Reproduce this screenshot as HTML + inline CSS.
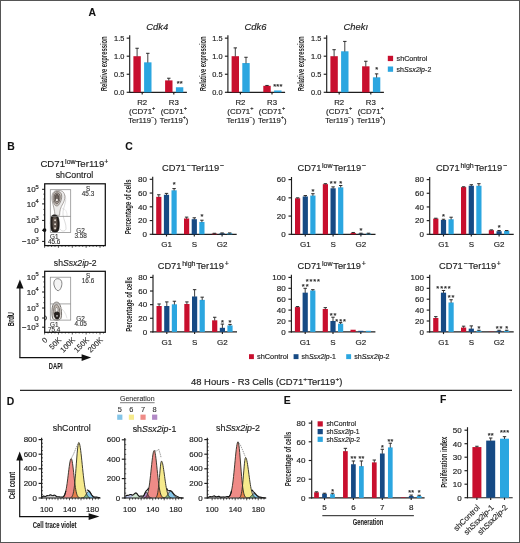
<!DOCTYPE html>
<html><head><meta charset="utf-8"><style>
html,body{margin:0;padding:0;background:#fff;}
body{width:520px;height:543px;overflow:hidden;font-family:"Liberation Sans", sans-serif;}
svg{display:block;}
text{font-family:"Liberation Sans", sans-serif;}
</style></head><body>
<svg width="520" height="543" viewBox="0 0 520 543" font-family='"Liberation Sans", sans-serif'>
<rect x="0" y="0" width="520" height="543" fill="#fff"/>
<g transform="translate(88.40 16.00)" fill="#111" stroke="#111" stroke-width="0.08"><text x="0.00" font-size="10.40" font-weight="bold">A</text></g>
<g transform="translate(7.20 150.00)" fill="#111" stroke="#111" stroke-width="0.08"><text x="0.00" font-size="10.40" font-weight="bold">B</text></g>
<g transform="translate(125.30 150.40)" fill="#111" stroke="#111" stroke-width="0.08"><text x="0.00" font-size="10.40" font-weight="bold">C</text></g>
<g transform="translate(6.80 405.10)" fill="#111" stroke="#111" stroke-width="0.08"><text x="0.00" font-size="10.40" font-weight="bold">D</text></g>
<g transform="translate(283.70 403.60)" fill="#111" stroke="#111" stroke-width="0.08"><text x="0.00" font-size="10.40" font-weight="bold">E</text></g>
<g transform="translate(440.00 403.10)" fill="#111" stroke="#111" stroke-width="0.08"><text x="0.00" font-size="10.40" font-weight="bold">F</text></g>
<line x1="129.70" y1="35.20" x2="129.70" y2="92.80" stroke="#1e1e1e" stroke-width="1.15" />
<line x1="129.20" y1="92.30" x2="186.90" y2="92.30" stroke="#1e1e1e" stroke-width="1.15" />
<line x1="126.70" y1="92.30" x2="129.70" y2="92.30" stroke="#1e1e1e" stroke-width="1.15" />
<g transform="translate(124.30 94.90)" fill="#1e1e1e" stroke="#1e1e1e" stroke-width="0.16"><text x="-10.29" font-size="7.40">0.0</text></g>
<line x1="126.70" y1="74.25" x2="129.70" y2="74.25" stroke="#1e1e1e" stroke-width="1.15" />
<g transform="translate(124.30 76.85)" fill="#1e1e1e" stroke="#1e1e1e" stroke-width="0.16"><text x="-10.29" font-size="7.40">0.5</text></g>
<line x1="126.70" y1="56.20" x2="129.70" y2="56.20" stroke="#1e1e1e" stroke-width="1.15" />
<g transform="translate(124.30 58.80)" fill="#1e1e1e" stroke="#1e1e1e" stroke-width="0.16"><text x="-10.29" font-size="7.40">1.0</text></g>
<line x1="126.70" y1="38.15" x2="129.70" y2="38.15" stroke="#1e1e1e" stroke-width="1.15" />
<g transform="translate(124.30 40.75)" fill="#1e1e1e" stroke="#1e1e1e" stroke-width="0.16"><text x="-10.29" font-size="7.40">1.5</text></g>
<line x1="142.20" y1="92.30" x2="142.20" y2="94.50" stroke="#1e1e1e" stroke-width="1.15" />
<line x1="173.80" y1="92.30" x2="173.80" y2="94.50" stroke="#1e1e1e" stroke-width="1.15" />
<rect x="133.40" y="56.20" width="7.40" height="36.10" fill="#c80f2e" />
<line x1="137.10" y1="56.50" x2="137.10" y2="48.26" stroke="#2a2a2a" stroke-width="0.9" />
<line x1="135.40" y1="48.26" x2="138.80" y2="48.26" stroke="#2a2a2a" stroke-width="1.0" />
<rect x="144.10" y="62.34" width="7.40" height="29.96" fill="#2ba6e0" />
<line x1="147.80" y1="62.64" x2="147.80" y2="53.31" stroke="#2a2a2a" stroke-width="0.9" />
<line x1="146.10" y1="53.31" x2="149.50" y2="53.31" stroke="#2a2a2a" stroke-width="1.0" />
<rect x="165.10" y="80.39" width="7.40" height="11.91" fill="#c80f2e" />
<line x1="168.80" y1="80.69" x2="168.80" y2="78.22" stroke="#2a2a2a" stroke-width="0.9" />
<line x1="167.10" y1="78.22" x2="170.50" y2="78.22" stroke="#2a2a2a" stroke-width="1.0" />
<rect x="175.90" y="87.25" width="7.40" height="5.05" fill="#2ba6e0" />
<g transform="translate(179.67 86.01)" fill="#2a2a2a" stroke="#2a2a2a" stroke-width="0.08"><text x="-3.04" font-size="7.43" font-weight="bold" letter-spacing="0.15">**</text></g>
<g transform="translate(157.30 30.00)" fill="#1e1e1e" stroke="#1e1e1e" stroke-width="0.16"><text x="-10.97" font-size="9.40" font-style="italic">Cdk4</text></g>
<g transform="translate(107.40 63.80) rotate(-90) scale(0.6653 1)" fill="#1e1e1e"><text x="-41.33" font-size="8.80" font-weight="bold">Relative expression</text></g>
<g transform="translate(142.20 104.70)" fill="#1e1e1e" stroke="#1e1e1e" stroke-width="0.16"><text x="-4.99" font-size="7.80">R2</text></g>
<g transform="translate(142.20 113.70) scale(1.0222 1)" fill="#1e1e1e" stroke="#1e1e1e" stroke-width="0.16"><text x="-12.86" font-size="7.80">(CD71</text><text x="9.68" y="-3.28" font-size="5.46">+</text></g>
<g transform="translate(142.50 122.70) scale(0.9842 1)" fill="#1e1e1e" stroke="#1e1e1e" stroke-width="0.16"><text x="-14.53" font-size="7.80">Ter119</text><text x="8.74" y="-3.28" font-size="5.46">−</text><text x="11.93" font-size="7.80">)</text></g>
<g transform="translate(173.80 104.70)" fill="#1e1e1e" stroke="#1e1e1e" stroke-width="0.16"><text x="-4.99" font-size="7.80">R3</text></g>
<g transform="translate(173.80 113.70) scale(1.0222 1)" fill="#1e1e1e" stroke="#1e1e1e" stroke-width="0.16"><text x="-12.86" font-size="7.80">(CD71</text><text x="9.68" y="-3.28" font-size="5.46">+</text></g>
<g transform="translate(174.10 122.70) scale(0.9842 1)" fill="#1e1e1e" stroke="#1e1e1e" stroke-width="0.16"><text x="-14.53" font-size="7.80">Ter119</text><text x="8.74" y="-3.28" font-size="5.46">+</text><text x="11.93" font-size="7.80">)</text></g>
<line x1="227.90" y1="35.20" x2="227.90" y2="92.80" stroke="#1e1e1e" stroke-width="1.15" />
<line x1="227.40" y1="92.30" x2="285.10" y2="92.30" stroke="#1e1e1e" stroke-width="1.15" />
<line x1="224.90" y1="92.30" x2="227.90" y2="92.30" stroke="#1e1e1e" stroke-width="1.15" />
<g transform="translate(222.50 94.90)" fill="#1e1e1e" stroke="#1e1e1e" stroke-width="0.16"><text x="-10.29" font-size="7.40">0.0</text></g>
<line x1="224.90" y1="74.25" x2="227.90" y2="74.25" stroke="#1e1e1e" stroke-width="1.15" />
<g transform="translate(222.50 76.85)" fill="#1e1e1e" stroke="#1e1e1e" stroke-width="0.16"><text x="-10.29" font-size="7.40">0.5</text></g>
<line x1="224.90" y1="56.20" x2="227.90" y2="56.20" stroke="#1e1e1e" stroke-width="1.15" />
<g transform="translate(222.50 58.80)" fill="#1e1e1e" stroke="#1e1e1e" stroke-width="0.16"><text x="-10.29" font-size="7.40">1.0</text></g>
<line x1="224.90" y1="38.15" x2="227.90" y2="38.15" stroke="#1e1e1e" stroke-width="1.15" />
<g transform="translate(222.50 40.75)" fill="#1e1e1e" stroke="#1e1e1e" stroke-width="0.16"><text x="-10.29" font-size="7.40">1.5</text></g>
<line x1="240.40" y1="92.30" x2="240.40" y2="94.50" stroke="#1e1e1e" stroke-width="1.15" />
<line x1="272.00" y1="92.30" x2="272.00" y2="94.50" stroke="#1e1e1e" stroke-width="1.15" />
<rect x="231.60" y="56.20" width="7.40" height="36.10" fill="#c80f2e" />
<line x1="235.30" y1="56.50" x2="235.30" y2="47.90" stroke="#2a2a2a" stroke-width="0.9" />
<line x1="233.60" y1="47.90" x2="237.00" y2="47.90" stroke="#2a2a2a" stroke-width="1.0" />
<rect x="242.30" y="63.06" width="7.40" height="29.24" fill="#2ba6e0" />
<line x1="246.00" y1="63.36" x2="246.00" y2="57.28" stroke="#2a2a2a" stroke-width="0.9" />
<line x1="244.30" y1="57.28" x2="247.70" y2="57.28" stroke="#2a2a2a" stroke-width="1.0" />
<rect x="263.30" y="85.80" width="7.40" height="6.50" fill="#c80f2e" />
<line x1="267.00" y1="86.10" x2="267.00" y2="85.44" stroke="#2a2a2a" stroke-width="0.9" />
<line x1="265.30" y1="85.44" x2="268.70" y2="85.44" stroke="#2a2a2a" stroke-width="1.0" />
<rect x="274.10" y="90.49" width="7.40" height="1.81" fill="#2ba6e0" />
<g transform="translate(277.88 89.26)" fill="#2a2a2a" stroke="#2a2a2a" stroke-width="0.08"><text x="-4.56" font-size="7.43" font-weight="bold" letter-spacing="0.15">***</text></g>
<g transform="translate(255.50 30.00)" fill="#1e1e1e" stroke="#1e1e1e" stroke-width="0.16"><text x="-10.97" font-size="9.40" font-style="italic">Cdk6</text></g>
<g transform="translate(205.60 63.80) rotate(-90) scale(0.6653 1)" fill="#1e1e1e"><text x="-41.33" font-size="8.80" font-weight="bold">Relative expression</text></g>
<g transform="translate(240.40 104.70)" fill="#1e1e1e" stroke="#1e1e1e" stroke-width="0.16"><text x="-4.99" font-size="7.80">R2</text></g>
<g transform="translate(240.40 113.70) scale(1.0222 1)" fill="#1e1e1e" stroke="#1e1e1e" stroke-width="0.16"><text x="-12.86" font-size="7.80">(CD71</text><text x="9.68" y="-3.28" font-size="5.46">+</text></g>
<g transform="translate(240.70 122.70) scale(0.9842 1)" fill="#1e1e1e" stroke="#1e1e1e" stroke-width="0.16"><text x="-14.53" font-size="7.80">Ter119</text><text x="8.74" y="-3.28" font-size="5.46">−</text><text x="11.93" font-size="7.80">)</text></g>
<g transform="translate(272.00 104.70)" fill="#1e1e1e" stroke="#1e1e1e" stroke-width="0.16"><text x="-4.99" font-size="7.80">R3</text></g>
<g transform="translate(272.00 113.70) scale(1.0222 1)" fill="#1e1e1e" stroke="#1e1e1e" stroke-width="0.16"><text x="-12.86" font-size="7.80">(CD71</text><text x="9.68" y="-3.28" font-size="5.46">+</text></g>
<g transform="translate(272.30 122.70) scale(0.9842 1)" fill="#1e1e1e" stroke="#1e1e1e" stroke-width="0.16"><text x="-14.53" font-size="7.80">Ter119</text><text x="8.74" y="-3.28" font-size="5.46">+</text><text x="11.93" font-size="7.80">)</text></g>
<line x1="326.70" y1="35.20" x2="326.70" y2="92.80" stroke="#1e1e1e" stroke-width="1.15" />
<line x1="326.20" y1="92.30" x2="383.90" y2="92.30" stroke="#1e1e1e" stroke-width="1.15" />
<line x1="323.70" y1="92.30" x2="326.70" y2="92.30" stroke="#1e1e1e" stroke-width="1.15" />
<g transform="translate(321.30 94.90)" fill="#1e1e1e" stroke="#1e1e1e" stroke-width="0.16"><text x="-10.29" font-size="7.40">0.0</text></g>
<line x1="323.70" y1="74.25" x2="326.70" y2="74.25" stroke="#1e1e1e" stroke-width="1.15" />
<g transform="translate(321.30 76.85)" fill="#1e1e1e" stroke="#1e1e1e" stroke-width="0.16"><text x="-10.29" font-size="7.40">0.5</text></g>
<line x1="323.70" y1="56.20" x2="326.70" y2="56.20" stroke="#1e1e1e" stroke-width="1.15" />
<g transform="translate(321.30 58.80)" fill="#1e1e1e" stroke="#1e1e1e" stroke-width="0.16"><text x="-10.29" font-size="7.40">1.0</text></g>
<line x1="323.70" y1="38.15" x2="326.70" y2="38.15" stroke="#1e1e1e" stroke-width="1.15" />
<g transform="translate(321.30 40.75)" fill="#1e1e1e" stroke="#1e1e1e" stroke-width="0.16"><text x="-10.29" font-size="7.40">1.5</text></g>
<line x1="339.20" y1="92.30" x2="339.20" y2="94.50" stroke="#1e1e1e" stroke-width="1.15" />
<line x1="370.80" y1="92.30" x2="370.80" y2="94.50" stroke="#1e1e1e" stroke-width="1.15" />
<rect x="330.40" y="56.20" width="7.40" height="36.10" fill="#c80f2e" />
<line x1="334.10" y1="56.50" x2="334.10" y2="49.70" stroke="#2a2a2a" stroke-width="0.9" />
<line x1="332.40" y1="49.70" x2="335.80" y2="49.70" stroke="#2a2a2a" stroke-width="1.0" />
<rect x="341.10" y="51.29" width="7.40" height="41.01" fill="#2ba6e0" />
<line x1="344.80" y1="51.59" x2="344.80" y2="41.40" stroke="#2a2a2a" stroke-width="0.9" />
<line x1="343.10" y1="41.40" x2="346.50" y2="41.40" stroke="#2a2a2a" stroke-width="1.0" />
<rect x="362.10" y="66.31" width="7.40" height="25.99" fill="#c80f2e" />
<line x1="365.80" y1="66.61" x2="365.80" y2="61.25" stroke="#2a2a2a" stroke-width="0.9" />
<line x1="364.10" y1="61.25" x2="367.50" y2="61.25" stroke="#2a2a2a" stroke-width="1.0" />
<rect x="372.90" y="77.32" width="7.40" height="14.98" fill="#2ba6e0" />
<line x1="376.60" y1="77.62" x2="376.60" y2="73.89" stroke="#2a2a2a" stroke-width="0.9" />
<line x1="374.90" y1="73.89" x2="378.30" y2="73.89" stroke="#2a2a2a" stroke-width="1.0" />
<g transform="translate(376.67 72.30)" fill="#2a2a2a" stroke="#2a2a2a" stroke-width="0.08"><text x="-1.52" font-size="7.43" font-weight="bold" letter-spacing="0.15">*</text></g>
<g transform="translate(355.80 30.00)" fill="#1e1e1e" stroke="#1e1e1e" stroke-width="0.16"><text x="-12.28" font-size="9.40" font-style="italic">Chek</text><text x="9.67" font-size="9.40" font-style="italic">ı</text></g>
<g transform="translate(304.40 63.80) rotate(-90) scale(0.6653 1)" fill="#1e1e1e"><text x="-41.33" font-size="8.80" font-weight="bold">Relative expression</text></g>
<g transform="translate(339.20 104.70)" fill="#1e1e1e" stroke="#1e1e1e" stroke-width="0.16"><text x="-4.99" font-size="7.80">R2</text></g>
<g transform="translate(339.20 113.70) scale(1.0222 1)" fill="#1e1e1e" stroke="#1e1e1e" stroke-width="0.16"><text x="-12.86" font-size="7.80">(CD71</text><text x="9.68" y="-3.28" font-size="5.46">+</text></g>
<g transform="translate(339.50 122.70) scale(0.9842 1)" fill="#1e1e1e" stroke="#1e1e1e" stroke-width="0.16"><text x="-14.53" font-size="7.80">Ter119</text><text x="8.74" y="-3.28" font-size="5.46">−</text><text x="11.93" font-size="7.80">)</text></g>
<g transform="translate(370.80 104.70)" fill="#1e1e1e" stroke="#1e1e1e" stroke-width="0.16"><text x="-4.99" font-size="7.80">R3</text></g>
<g transform="translate(370.80 113.70) scale(1.0222 1)" fill="#1e1e1e" stroke="#1e1e1e" stroke-width="0.16"><text x="-12.86" font-size="7.80">(CD71</text><text x="9.68" y="-3.28" font-size="5.46">+</text></g>
<g transform="translate(371.10 122.70) scale(0.9842 1)" fill="#1e1e1e" stroke="#1e1e1e" stroke-width="0.16"><text x="-14.53" font-size="7.80">Ter119</text><text x="8.74" y="-3.28" font-size="5.46">+</text><text x="11.93" font-size="7.80">)</text></g>
<rect x="387.80" y="55.80" width="5.30" height="5.30" fill="#c80f2e" />
<g transform="translate(396.60 60.80) scale(0.9858 1)" fill="#1e1e1e" stroke="#1e1e1e" stroke-width="0.16"><text x="0.00" font-size="7.30">shControl</text></g>
<rect x="387.80" y="66.50" width="5.30" height="5.30" fill="#2ba6e0" />
<g transform="translate(396.60 71.50) scale(0.9609 1)" fill="#1e1e1e" stroke="#1e1e1e" stroke-width="0.16"><text x="0.00" font-size="7.30">sh</text><text x="7.71" font-size="7.30" font-style="italic">Ssx2ip</text><text x="29.62" font-size="7.30">-2</text></g>
<line x1="152.70" y1="176.70" x2="152.70" y2="234.80" stroke="#1e1e1e" stroke-width="1.15" />
<line x1="152.20" y1="234.30" x2="236.70" y2="234.30" stroke="#1e1e1e" stroke-width="1.15" />
<line x1="149.70" y1="234.30" x2="152.70" y2="234.30" stroke="#1e1e1e" stroke-width="1.15" />
<g transform="translate(146.90 237.10)" fill="#1e1e1e" stroke="#1e1e1e" stroke-width="0.16"><text x="-4.45" font-size="8.00">0</text></g>
<line x1="149.70" y1="220.55" x2="152.70" y2="220.55" stroke="#1e1e1e" stroke-width="1.15" />
<g transform="translate(146.90 223.35)" fill="#1e1e1e" stroke="#1e1e1e" stroke-width="0.16"><text x="-8.90" font-size="8.00">20</text></g>
<line x1="149.70" y1="206.80" x2="152.70" y2="206.80" stroke="#1e1e1e" stroke-width="1.15" />
<g transform="translate(146.90 209.60)" fill="#1e1e1e" stroke="#1e1e1e" stroke-width="0.16"><text x="-8.90" font-size="8.00">40</text></g>
<line x1="149.70" y1="193.05" x2="152.70" y2="193.05" stroke="#1e1e1e" stroke-width="1.15" />
<g transform="translate(146.90 195.85)" fill="#1e1e1e" stroke="#1e1e1e" stroke-width="0.16"><text x="-8.90" font-size="8.00">60</text></g>
<line x1="149.70" y1="179.30" x2="152.70" y2="179.30" stroke="#1e1e1e" stroke-width="1.15" />
<g transform="translate(146.90 182.10)" fill="#1e1e1e" stroke="#1e1e1e" stroke-width="0.16"><text x="-8.90" font-size="8.00">80</text></g>
<line x1="166.50" y1="234.30" x2="166.50" y2="236.50" stroke="#1e1e1e" stroke-width="1.15" />
<g transform="translate(166.50 247.20)" fill="#1e1e1e" stroke="#1e1e1e" stroke-width="0.16"><text x="-5.34" font-size="8.00">G1</text></g>
<rect x="156.20" y="196.83" width="5.20" height="37.47" fill="#c80f2e" />
<line x1="158.80" y1="197.13" x2="158.80" y2="194.77" stroke="#2a2a2a" stroke-width="0.9" />
<line x1="157.10" y1="194.77" x2="160.50" y2="194.77" stroke="#2a2a2a" stroke-width="1.0" />
<rect x="163.90" y="194.77" width="5.20" height="39.53" fill="#164a84" />
<line x1="166.50" y1="195.07" x2="166.50" y2="193.39" stroke="#2a2a2a" stroke-width="0.9" />
<line x1="164.80" y1="193.39" x2="168.20" y2="193.39" stroke="#2a2a2a" stroke-width="1.0" />
<rect x="171.50" y="190.30" width="5.20" height="44.00" fill="#2ba6e0" />
<line x1="174.10" y1="190.60" x2="174.10" y2="188.58" stroke="#2a2a2a" stroke-width="0.9" />
<line x1="172.40" y1="188.58" x2="175.80" y2="188.58" stroke="#2a2a2a" stroke-width="1.0" />
<line x1="194.30" y1="234.30" x2="194.30" y2="236.50" stroke="#1e1e1e" stroke-width="1.15" />
<g transform="translate(194.30 247.20)" fill="#1e1e1e" stroke="#1e1e1e" stroke-width="0.16"><text x="-2.67" font-size="8.00">S</text></g>
<rect x="184.00" y="218.49" width="5.20" height="15.81" fill="#c80f2e" />
<line x1="186.60" y1="218.79" x2="186.60" y2="217.11" stroke="#2a2a2a" stroke-width="0.9" />
<line x1="184.90" y1="217.11" x2="188.30" y2="217.11" stroke="#2a2a2a" stroke-width="1.0" />
<rect x="191.70" y="219.18" width="5.20" height="15.12" fill="#164a84" />
<line x1="194.30" y1="219.48" x2="194.30" y2="217.80" stroke="#2a2a2a" stroke-width="0.9" />
<line x1="192.60" y1="217.80" x2="196.00" y2="217.80" stroke="#2a2a2a" stroke-width="1.0" />
<rect x="199.30" y="221.93" width="5.20" height="12.38" fill="#2ba6e0" />
<line x1="201.90" y1="222.23" x2="201.90" y2="220.21" stroke="#2a2a2a" stroke-width="0.9" />
<line x1="200.20" y1="220.21" x2="203.60" y2="220.21" stroke="#2a2a2a" stroke-width="1.0" />
<line x1="222.10" y1="234.30" x2="222.10" y2="236.50" stroke="#1e1e1e" stroke-width="1.15" />
<g transform="translate(222.10 247.20)" fill="#1e1e1e" stroke="#1e1e1e" stroke-width="0.16"><text x="-5.34" font-size="8.00">G2</text></g>
<rect x="211.80" y="233.61" width="5.20" height="0.69" fill="#c80f2e" />
<line x1="214.40" y1="233.91" x2="214.40" y2="233.27" stroke="#2a2a2a" stroke-width="0.9" />
<line x1="212.70" y1="233.27" x2="216.10" y2="233.27" stroke="#2a2a2a" stroke-width="1.0" />
<rect x="219.50" y="233.27" width="5.20" height="1.03" fill="#164a84" />
<line x1="222.10" y1="233.57" x2="222.10" y2="232.93" stroke="#2a2a2a" stroke-width="0.9" />
<line x1="220.40" y1="232.93" x2="223.80" y2="232.93" stroke="#2a2a2a" stroke-width="1.0" />
<rect x="227.10" y="233.27" width="5.20" height="1.03" fill="#2ba6e0" />
<line x1="229.70" y1="233.57" x2="229.70" y2="232.93" stroke="#2a2a2a" stroke-width="0.9" />
<line x1="228.00" y1="232.93" x2="231.40" y2="232.93" stroke="#2a2a2a" stroke-width="1.0" />
<g transform="translate(174.55 186.62)" fill="#2a2a2a" stroke="#2a2a2a" stroke-width="0.08"><text x="-1.90" font-size="7.43" font-weight="bold" letter-spacing="0.9">*</text></g>
<g transform="translate(202.35 218.94)" fill="#2a2a2a" stroke="#2a2a2a" stroke-width="0.08"><text x="-1.90" font-size="7.43" font-weight="bold" letter-spacing="0.9">*</text></g>
<g transform="translate(193.30 171.00)" fill="#1e1e1e" stroke="#1e1e1e" stroke-width="0.16"><text x="-31.29" font-size="9.30">CD71</text><text x="-6.81" y="-3.35" font-size="7.07">−</text><text x="-1.98" font-size="9.30">Ter119</text><text x="26.46" y="-3.35" font-size="7.07">−</text></g>
<g transform="translate(131.30 206.70) rotate(-90) scale(0.6856 1)" fill="#1e1e1e"><text x="-40.11" font-size="8.80" font-weight="bold">Percentage of cells</text></g>
<line x1="291.50" y1="177.00" x2="291.50" y2="234.80" stroke="#1e1e1e" stroke-width="1.15" />
<line x1="291.00" y1="234.30" x2="375.50" y2="234.30" stroke="#1e1e1e" stroke-width="1.15" />
<line x1="288.50" y1="234.30" x2="291.50" y2="234.30" stroke="#1e1e1e" stroke-width="1.15" />
<g transform="translate(285.70 237.10)" fill="#1e1e1e" stroke="#1e1e1e" stroke-width="0.16"><text x="-4.45" font-size="8.00">0</text></g>
<line x1="288.50" y1="216.07" x2="291.50" y2="216.07" stroke="#1e1e1e" stroke-width="1.15" />
<g transform="translate(285.70 218.87)" fill="#1e1e1e" stroke="#1e1e1e" stroke-width="0.16"><text x="-8.90" font-size="8.00">20</text></g>
<line x1="288.50" y1="197.83" x2="291.50" y2="197.83" stroke="#1e1e1e" stroke-width="1.15" />
<g transform="translate(285.70 200.63)" fill="#1e1e1e" stroke="#1e1e1e" stroke-width="0.16"><text x="-8.90" font-size="8.00">40</text></g>
<line x1="288.50" y1="179.60" x2="291.50" y2="179.60" stroke="#1e1e1e" stroke-width="1.15" />
<g transform="translate(285.70 182.40)" fill="#1e1e1e" stroke="#1e1e1e" stroke-width="0.16"><text x="-8.90" font-size="8.00">60</text></g>
<line x1="305.30" y1="234.30" x2="305.30" y2="236.50" stroke="#1e1e1e" stroke-width="1.15" />
<g transform="translate(305.30 247.20)" fill="#1e1e1e" stroke="#1e1e1e" stroke-width="0.16"><text x="-5.34" font-size="8.00">G1</text></g>
<rect x="295.00" y="198.29" width="5.20" height="36.01" fill="#c80f2e" />
<line x1="297.60" y1="198.59" x2="297.60" y2="197.83" stroke="#2a2a2a" stroke-width="0.9" />
<line x1="295.90" y1="197.83" x2="299.30" y2="197.83" stroke="#2a2a2a" stroke-width="1.0" />
<rect x="302.70" y="196.47" width="5.20" height="37.83" fill="#164a84" />
<line x1="305.30" y1="196.77" x2="305.30" y2="195.55" stroke="#2a2a2a" stroke-width="0.9" />
<line x1="303.60" y1="195.55" x2="307.00" y2="195.55" stroke="#2a2a2a" stroke-width="1.0" />
<rect x="310.30" y="195.55" width="5.20" height="38.75" fill="#2ba6e0" />
<line x1="312.90" y1="195.85" x2="312.90" y2="193.73" stroke="#2a2a2a" stroke-width="0.9" />
<line x1="311.20" y1="193.73" x2="314.60" y2="193.73" stroke="#2a2a2a" stroke-width="1.0" />
<line x1="333.10" y1="234.30" x2="333.10" y2="236.50" stroke="#1e1e1e" stroke-width="1.15" />
<g transform="translate(333.10 247.20)" fill="#1e1e1e" stroke="#1e1e1e" stroke-width="0.16"><text x="-2.67" font-size="8.00">S</text></g>
<rect x="322.80" y="184.16" width="5.20" height="50.14" fill="#c80f2e" />
<line x1="325.40" y1="184.46" x2="325.40" y2="183.70" stroke="#2a2a2a" stroke-width="0.9" />
<line x1="323.70" y1="183.70" x2="327.10" y2="183.70" stroke="#2a2a2a" stroke-width="1.0" />
<rect x="330.50" y="188.26" width="5.20" height="46.04" fill="#164a84" />
<line x1="333.10" y1="188.56" x2="333.10" y2="186.89" stroke="#2a2a2a" stroke-width="0.9" />
<line x1="331.40" y1="186.89" x2="334.80" y2="186.89" stroke="#2a2a2a" stroke-width="1.0" />
<rect x="338.10" y="187.35" width="5.20" height="46.95" fill="#2ba6e0" />
<line x1="340.70" y1="187.65" x2="340.70" y2="185.53" stroke="#2a2a2a" stroke-width="0.9" />
<line x1="339.00" y1="185.53" x2="342.40" y2="185.53" stroke="#2a2a2a" stroke-width="1.0" />
<line x1="360.90" y1="234.30" x2="360.90" y2="236.50" stroke="#1e1e1e" stroke-width="1.15" />
<g transform="translate(360.90 247.20)" fill="#1e1e1e" stroke="#1e1e1e" stroke-width="0.16"><text x="-5.34" font-size="8.00">G2</text></g>
<rect x="350.60" y="232.93" width="5.20" height="1.37" fill="#c80f2e" />
<line x1="353.20" y1="233.23" x2="353.20" y2="232.48" stroke="#2a2a2a" stroke-width="0.9" />
<line x1="351.50" y1="232.48" x2="354.90" y2="232.48" stroke="#2a2a2a" stroke-width="1.0" />
<rect x="358.30" y="233.57" width="5.20" height="0.73" fill="#164a84" />
<line x1="360.90" y1="233.87" x2="360.90" y2="233.21" stroke="#2a2a2a" stroke-width="0.9" />
<line x1="359.20" y1="233.21" x2="362.60" y2="233.21" stroke="#2a2a2a" stroke-width="1.0" />
<rect x="365.90" y="233.57" width="5.20" height="0.73" fill="#2ba6e0" />
<line x1="368.50" y1="233.87" x2="368.50" y2="233.21" stroke="#2a2a2a" stroke-width="0.9" />
<line x1="366.80" y1="233.21" x2="370.20" y2="233.21" stroke="#2a2a2a" stroke-width="1.0" />
<g transform="translate(313.35 193.74)" fill="#2a2a2a" stroke="#2a2a2a" stroke-width="0.08"><text x="-1.90" font-size="7.43" font-weight="bold" letter-spacing="0.9">*</text></g>
<g transform="translate(333.55 185.99)" fill="#2a2a2a" stroke="#2a2a2a" stroke-width="0.08"><text x="-3.79" font-size="7.43" font-weight="bold" letter-spacing="0.9">**</text></g>
<g transform="translate(341.15 185.53)" fill="#2a2a2a" stroke="#2a2a2a" stroke-width="0.08"><text x="-1.90" font-size="7.43" font-weight="bold" letter-spacing="0.9">*</text></g>
<g transform="translate(361.35 232.94)" fill="#2a2a2a" stroke="#2a2a2a" stroke-width="0.08"><text x="-1.90" font-size="7.43" font-weight="bold" letter-spacing="0.9">*</text></g>
<g transform="translate(332.10 171.00)" fill="#1e1e1e" stroke="#1e1e1e" stroke-width="0.16"><text x="-34.53" font-size="9.30">CD71</text><text x="-10.05" y="-3.35" font-size="7.07">low</text><text x="1.25" font-size="9.30">Ter119</text><text x="29.70" y="-3.35" font-size="7.07">−</text></g>
<line x1="429.70" y1="177.00" x2="429.70" y2="234.80" stroke="#1e1e1e" stroke-width="1.15" />
<line x1="429.20" y1="234.30" x2="513.70" y2="234.30" stroke="#1e1e1e" stroke-width="1.15" />
<line x1="426.70" y1="234.30" x2="429.70" y2="234.30" stroke="#1e1e1e" stroke-width="1.15" />
<g transform="translate(423.90 237.10)" fill="#1e1e1e" stroke="#1e1e1e" stroke-width="0.16"><text x="-4.45" font-size="8.00">0</text></g>
<line x1="426.70" y1="220.62" x2="429.70" y2="220.62" stroke="#1e1e1e" stroke-width="1.15" />
<g transform="translate(423.90 223.43)" fill="#1e1e1e" stroke="#1e1e1e" stroke-width="0.16"><text x="-8.90" font-size="8.00">20</text></g>
<line x1="426.70" y1="206.95" x2="429.70" y2="206.95" stroke="#1e1e1e" stroke-width="1.15" />
<g transform="translate(423.90 209.75)" fill="#1e1e1e" stroke="#1e1e1e" stroke-width="0.16"><text x="-8.90" font-size="8.00">40</text></g>
<line x1="426.70" y1="193.28" x2="429.70" y2="193.28" stroke="#1e1e1e" stroke-width="1.15" />
<g transform="translate(423.90 196.08)" fill="#1e1e1e" stroke="#1e1e1e" stroke-width="0.16"><text x="-8.90" font-size="8.00">60</text></g>
<line x1="426.70" y1="179.60" x2="429.70" y2="179.60" stroke="#1e1e1e" stroke-width="1.15" />
<g transform="translate(423.90 182.40)" fill="#1e1e1e" stroke="#1e1e1e" stroke-width="0.16"><text x="-8.90" font-size="8.00">80</text></g>
<line x1="443.50" y1="234.30" x2="443.50" y2="236.50" stroke="#1e1e1e" stroke-width="1.15" />
<g transform="translate(443.50 247.20)" fill="#1e1e1e" stroke="#1e1e1e" stroke-width="0.16"><text x="-5.34" font-size="8.00">G1</text></g>
<rect x="433.20" y="218.57" width="5.20" height="15.73" fill="#c80f2e" />
<line x1="435.80" y1="218.87" x2="435.80" y2="218.23" stroke="#2a2a2a" stroke-width="0.9" />
<line x1="434.10" y1="218.23" x2="437.50" y2="218.23" stroke="#2a2a2a" stroke-width="1.0" />
<rect x="440.90" y="219.94" width="5.20" height="14.36" fill="#164a84" />
<line x1="443.50" y1="220.24" x2="443.50" y2="219.26" stroke="#2a2a2a" stroke-width="0.9" />
<line x1="441.80" y1="219.26" x2="445.20" y2="219.26" stroke="#2a2a2a" stroke-width="1.0" />
<rect x="448.50" y="219.26" width="5.20" height="15.04" fill="#2ba6e0" />
<line x1="451.10" y1="219.56" x2="451.10" y2="217.21" stroke="#2a2a2a" stroke-width="0.9" />
<line x1="449.40" y1="217.21" x2="452.80" y2="217.21" stroke="#2a2a2a" stroke-width="1.0" />
<line x1="471.30" y1="234.30" x2="471.30" y2="236.50" stroke="#1e1e1e" stroke-width="1.15" />
<g transform="translate(471.30 247.20)" fill="#1e1e1e" stroke="#1e1e1e" stroke-width="0.16"><text x="-2.67" font-size="8.00">S</text></g>
<rect x="461.00" y="187.12" width="5.20" height="47.18" fill="#c80f2e" />
<line x1="463.60" y1="187.42" x2="463.60" y2="186.78" stroke="#2a2a2a" stroke-width="0.9" />
<line x1="461.90" y1="186.78" x2="465.30" y2="186.78" stroke="#2a2a2a" stroke-width="1.0" />
<rect x="468.70" y="185.75" width="5.20" height="48.55" fill="#164a84" />
<line x1="471.30" y1="186.05" x2="471.30" y2="184.73" stroke="#2a2a2a" stroke-width="0.9" />
<line x1="469.60" y1="184.73" x2="473.00" y2="184.73" stroke="#2a2a2a" stroke-width="1.0" />
<rect x="476.30" y="185.75" width="5.20" height="48.55" fill="#2ba6e0" />
<line x1="478.90" y1="186.05" x2="478.90" y2="183.70" stroke="#2a2a2a" stroke-width="0.9" />
<line x1="477.20" y1="183.70" x2="480.60" y2="183.70" stroke="#2a2a2a" stroke-width="1.0" />
<line x1="499.10" y1="234.30" x2="499.10" y2="236.50" stroke="#1e1e1e" stroke-width="1.15" />
<g transform="translate(499.10 247.20)" fill="#1e1e1e" stroke="#1e1e1e" stroke-width="0.16"><text x="-5.34" font-size="8.00">G2</text></g>
<rect x="488.80" y="230.20" width="5.20" height="4.10" fill="#c80f2e" />
<line x1="491.40" y1="230.50" x2="491.40" y2="229.86" stroke="#2a2a2a" stroke-width="0.9" />
<line x1="489.70" y1="229.86" x2="493.10" y2="229.86" stroke="#2a2a2a" stroke-width="1.0" />
<rect x="496.50" y="231.22" width="5.20" height="3.08" fill="#164a84" />
<line x1="499.10" y1="231.52" x2="499.10" y2="230.54" stroke="#2a2a2a" stroke-width="0.9" />
<line x1="497.40" y1="230.54" x2="500.80" y2="230.54" stroke="#2a2a2a" stroke-width="1.0" />
<rect x="504.10" y="230.88" width="5.20" height="3.42" fill="#2ba6e0" />
<line x1="506.70" y1="231.18" x2="506.70" y2="230.54" stroke="#2a2a2a" stroke-width="0.9" />
<line x1="505.00" y1="230.54" x2="508.40" y2="230.54" stroke="#2a2a2a" stroke-width="1.0" />
<g transform="translate(443.95 219.04)" fill="#2a2a2a" stroke="#2a2a2a" stroke-width="0.08"><text x="-1.90" font-size="7.43" font-weight="bold" letter-spacing="0.9">*</text></g>
<g transform="translate(499.55 229.98)" fill="#2a2a2a" stroke="#2a2a2a" stroke-width="0.08"><text x="-1.90" font-size="7.43" font-weight="bold" letter-spacing="0.9">*</text></g>
<g transform="translate(471.80 171.00)" fill="#1e1e1e" stroke="#1e1e1e" stroke-width="0.16"><text x="-35.91" font-size="9.30">CD71</text><text x="-11.43" y="-3.35" font-size="7.07">high</text><text x="2.63" font-size="9.30">Ter119</text><text x="31.08" y="-3.35" font-size="7.07">−</text></g>
<line x1="153.00" y1="274.80" x2="153.00" y2="332.40" stroke="#1e1e1e" stroke-width="1.15" />
<line x1="152.50" y1="331.90" x2="237.00" y2="331.90" stroke="#1e1e1e" stroke-width="1.15" />
<line x1="150.00" y1="331.90" x2="153.00" y2="331.90" stroke="#1e1e1e" stroke-width="1.15" />
<g transform="translate(147.20 334.70)" fill="#1e1e1e" stroke="#1e1e1e" stroke-width="0.16"><text x="-4.45" font-size="8.00">0</text></g>
<line x1="150.00" y1="318.27" x2="153.00" y2="318.27" stroke="#1e1e1e" stroke-width="1.15" />
<g transform="translate(147.20 321.07)" fill="#1e1e1e" stroke="#1e1e1e" stroke-width="0.16"><text x="-8.90" font-size="8.00">20</text></g>
<line x1="150.00" y1="304.65" x2="153.00" y2="304.65" stroke="#1e1e1e" stroke-width="1.15" />
<g transform="translate(147.20 307.45)" fill="#1e1e1e" stroke="#1e1e1e" stroke-width="0.16"><text x="-8.90" font-size="8.00">40</text></g>
<line x1="150.00" y1="291.02" x2="153.00" y2="291.02" stroke="#1e1e1e" stroke-width="1.15" />
<g transform="translate(147.20 293.82)" fill="#1e1e1e" stroke="#1e1e1e" stroke-width="0.16"><text x="-8.90" font-size="8.00">60</text></g>
<line x1="150.00" y1="277.40" x2="153.00" y2="277.40" stroke="#1e1e1e" stroke-width="1.15" />
<g transform="translate(147.20 280.20)" fill="#1e1e1e" stroke="#1e1e1e" stroke-width="0.16"><text x="-8.90" font-size="8.00">80</text></g>
<line x1="166.80" y1="331.90" x2="166.80" y2="334.10" stroke="#1e1e1e" stroke-width="1.15" />
<g transform="translate(166.80 344.80)" fill="#1e1e1e" stroke="#1e1e1e" stroke-width="0.16"><text x="-5.34" font-size="8.00">G1</text></g>
<rect x="156.50" y="306.01" width="5.20" height="25.89" fill="#c80f2e" />
<line x1="159.10" y1="306.31" x2="159.10" y2="303.97" stroke="#2a2a2a" stroke-width="0.9" />
<line x1="157.40" y1="303.97" x2="160.80" y2="303.97" stroke="#2a2a2a" stroke-width="1.0" />
<rect x="164.20" y="306.01" width="5.20" height="25.89" fill="#164a84" />
<line x1="166.80" y1="306.31" x2="166.80" y2="301.92" stroke="#2a2a2a" stroke-width="0.9" />
<line x1="165.10" y1="301.92" x2="168.50" y2="301.92" stroke="#2a2a2a" stroke-width="1.0" />
<rect x="171.80" y="304.31" width="5.20" height="27.59" fill="#2ba6e0" />
<line x1="174.40" y1="304.61" x2="174.40" y2="301.24" stroke="#2a2a2a" stroke-width="0.9" />
<line x1="172.70" y1="301.24" x2="176.10" y2="301.24" stroke="#2a2a2a" stroke-width="1.0" />
<line x1="194.60" y1="331.90" x2="194.60" y2="334.10" stroke="#1e1e1e" stroke-width="1.15" />
<g transform="translate(194.60 344.80)" fill="#1e1e1e" stroke="#1e1e1e" stroke-width="0.16"><text x="-2.67" font-size="8.00">S</text></g>
<rect x="184.30" y="303.97" width="5.20" height="27.93" fill="#c80f2e" />
<line x1="186.90" y1="304.27" x2="186.90" y2="301.92" stroke="#2a2a2a" stroke-width="0.9" />
<line x1="185.20" y1="301.92" x2="188.60" y2="301.92" stroke="#2a2a2a" stroke-width="1.0" />
<rect x="192.00" y="296.47" width="5.20" height="35.43" fill="#164a84" />
<line x1="194.60" y1="296.77" x2="194.60" y2="289.66" stroke="#2a2a2a" stroke-width="0.9" />
<line x1="192.90" y1="289.66" x2="196.30" y2="289.66" stroke="#2a2a2a" stroke-width="1.0" />
<rect x="199.60" y="299.88" width="5.20" height="32.02" fill="#2ba6e0" />
<line x1="202.20" y1="300.18" x2="202.20" y2="297.16" stroke="#2a2a2a" stroke-width="0.9" />
<line x1="200.50" y1="297.16" x2="203.90" y2="297.16" stroke="#2a2a2a" stroke-width="1.0" />
<line x1="222.40" y1="331.90" x2="222.40" y2="334.10" stroke="#1e1e1e" stroke-width="1.15" />
<g transform="translate(222.40 344.80)" fill="#1e1e1e" stroke="#1e1e1e" stroke-width="0.16"><text x="-5.34" font-size="8.00">G2</text></g>
<rect x="212.10" y="320.32" width="5.20" height="11.58" fill="#c80f2e" />
<line x1="214.70" y1="320.62" x2="214.70" y2="317.25" stroke="#2a2a2a" stroke-width="0.9" />
<line x1="213.00" y1="317.25" x2="216.40" y2="317.25" stroke="#2a2a2a" stroke-width="1.0" />
<rect x="219.80" y="327.81" width="5.20" height="4.09" fill="#164a84" />
<line x1="222.40" y1="328.11" x2="222.40" y2="324.07" stroke="#2a2a2a" stroke-width="0.9" />
<line x1="220.70" y1="324.07" x2="224.10" y2="324.07" stroke="#2a2a2a" stroke-width="1.0" />
<rect x="227.40" y="325.43" width="5.20" height="6.47" fill="#2ba6e0" />
<line x1="230.00" y1="325.73" x2="230.00" y2="324.41" stroke="#2a2a2a" stroke-width="0.9" />
<line x1="228.30" y1="324.41" x2="231.70" y2="324.41" stroke="#2a2a2a" stroke-width="1.0" />
<g transform="translate(222.85 324.88)" fill="#2a2a2a" stroke="#2a2a2a" stroke-width="0.08"><text x="-1.90" font-size="7.43" font-weight="bold" letter-spacing="0.9">*</text></g>
<g transform="translate(230.45 324.88)" fill="#2a2a2a" stroke="#2a2a2a" stroke-width="0.08"><text x="-1.90" font-size="7.43" font-weight="bold" letter-spacing="0.9">*</text></g>
<g transform="translate(193.60 269.00)" fill="#1e1e1e" stroke="#1e1e1e" stroke-width="0.16"><text x="-35.91" font-size="9.30">CD71</text><text x="-11.43" y="-3.35" font-size="7.07">high</text><text x="2.63" font-size="9.30">Ter119</text><text x="31.08" y="-3.35" font-size="7.07">+</text></g>
<g transform="translate(131.60 304.30) rotate(-90) scale(0.6856 1)" fill="#1e1e1e"><text x="-40.11" font-size="8.80" font-weight="bold">Percentage of cells</text></g>
<line x1="291.40" y1="274.80" x2="291.40" y2="332.40" stroke="#1e1e1e" stroke-width="1.15" />
<line x1="290.90" y1="331.90" x2="375.40" y2="331.90" stroke="#1e1e1e" stroke-width="1.15" />
<line x1="288.40" y1="331.90" x2="291.40" y2="331.90" stroke="#1e1e1e" stroke-width="1.15" />
<g transform="translate(285.60 334.70)" fill="#1e1e1e" stroke="#1e1e1e" stroke-width="0.16"><text x="-4.45" font-size="8.00">0</text></g>
<line x1="288.40" y1="321.00" x2="291.40" y2="321.00" stroke="#1e1e1e" stroke-width="1.15" />
<g transform="translate(285.60 323.80)" fill="#1e1e1e" stroke="#1e1e1e" stroke-width="0.16"><text x="-8.90" font-size="8.00">20</text></g>
<line x1="288.40" y1="310.10" x2="291.40" y2="310.10" stroke="#1e1e1e" stroke-width="1.15" />
<g transform="translate(285.60 312.90)" fill="#1e1e1e" stroke="#1e1e1e" stroke-width="0.16"><text x="-8.90" font-size="8.00">40</text></g>
<line x1="288.40" y1="299.20" x2="291.40" y2="299.20" stroke="#1e1e1e" stroke-width="1.15" />
<g transform="translate(285.60 302.00)" fill="#1e1e1e" stroke="#1e1e1e" stroke-width="0.16"><text x="-8.90" font-size="8.00">60</text></g>
<line x1="288.40" y1="288.30" x2="291.40" y2="288.30" stroke="#1e1e1e" stroke-width="1.15" />
<g transform="translate(285.60 291.10)" fill="#1e1e1e" stroke="#1e1e1e" stroke-width="0.16"><text x="-8.90" font-size="8.00">80</text></g>
<line x1="288.40" y1="277.40" x2="291.40" y2="277.40" stroke="#1e1e1e" stroke-width="1.15" />
<g transform="translate(285.60 280.20)" fill="#1e1e1e" stroke="#1e1e1e" stroke-width="0.16"><text x="-13.35" font-size="8.00">100</text></g>
<line x1="305.20" y1="331.90" x2="305.20" y2="334.10" stroke="#1e1e1e" stroke-width="1.15" />
<g transform="translate(305.20 344.80)" fill="#1e1e1e" stroke="#1e1e1e" stroke-width="0.16"><text x="-5.34" font-size="8.00">G1</text></g>
<rect x="294.90" y="307.10" width="5.20" height="24.80" fill="#c80f2e" />
<line x1="297.50" y1="307.40" x2="297.50" y2="306.56" stroke="#2a2a2a" stroke-width="0.9" />
<line x1="295.80" y1="306.56" x2="299.20" y2="306.56" stroke="#2a2a2a" stroke-width="1.0" />
<rect x="302.60" y="292.66" width="5.20" height="39.24" fill="#164a84" />
<line x1="305.20" y1="292.96" x2="305.20" y2="288.30" stroke="#2a2a2a" stroke-width="0.9" />
<line x1="303.50" y1="288.30" x2="306.90" y2="288.30" stroke="#2a2a2a" stroke-width="1.0" />
<rect x="310.20" y="290.48" width="5.20" height="41.42" fill="#2ba6e0" />
<line x1="312.80" y1="290.78" x2="312.80" y2="289.66" stroke="#2a2a2a" stroke-width="0.9" />
<line x1="311.10" y1="289.66" x2="314.50" y2="289.66" stroke="#2a2a2a" stroke-width="1.0" />
<line x1="333.00" y1="331.90" x2="333.00" y2="334.10" stroke="#1e1e1e" stroke-width="1.15" />
<g transform="translate(333.00 344.80)" fill="#1e1e1e" stroke="#1e1e1e" stroke-width="0.16"><text x="-2.67" font-size="8.00">S</text></g>
<rect x="322.70" y="309.01" width="5.20" height="22.89" fill="#c80f2e" />
<line x1="325.30" y1="309.31" x2="325.30" y2="307.65" stroke="#2a2a2a" stroke-width="0.9" />
<line x1="323.60" y1="307.65" x2="327.00" y2="307.65" stroke="#2a2a2a" stroke-width="1.0" />
<rect x="330.40" y="321.00" width="5.20" height="10.90" fill="#164a84" />
<line x1="333.00" y1="321.30" x2="333.00" y2="317.19" stroke="#2a2a2a" stroke-width="0.9" />
<line x1="331.30" y1="317.19" x2="334.70" y2="317.19" stroke="#2a2a2a" stroke-width="1.0" />
<rect x="338.00" y="323.72" width="5.20" height="8.18" fill="#2ba6e0" />
<line x1="340.60" y1="324.02" x2="340.60" y2="322.63" stroke="#2a2a2a" stroke-width="0.9" />
<line x1="338.90" y1="322.63" x2="342.30" y2="322.63" stroke="#2a2a2a" stroke-width="1.0" />
<line x1="360.80" y1="331.90" x2="360.80" y2="334.10" stroke="#1e1e1e" stroke-width="1.15" />
<g transform="translate(360.80 344.80)" fill="#1e1e1e" stroke="#1e1e1e" stroke-width="0.16"><text x="-5.34" font-size="8.00">G2</text></g>
<rect x="350.50" y="329.72" width="5.20" height="2.18" fill="#c80f2e" />
<rect x="358.20" y="330.81" width="5.20" height="1.09" fill="#164a84" />
<rect x="365.80" y="330.81" width="5.20" height="1.09" fill="#2ba6e0" />
<g transform="translate(305.65 289.32)" fill="#2a2a2a" stroke="#2a2a2a" stroke-width="0.08"><text x="-3.79" font-size="7.43" font-weight="bold" letter-spacing="0.9">**</text></g>
<g transform="translate(313.25 284.42)" fill="#2a2a2a" stroke="#2a2a2a" stroke-width="0.08"><text x="-7.59" font-size="7.43" font-weight="bold" letter-spacing="0.9">****</text></g>
<g transform="translate(333.45 318.21)" fill="#2a2a2a" stroke="#2a2a2a" stroke-width="0.08"><text x="-3.79" font-size="7.43" font-weight="bold" letter-spacing="0.9">**</text></g>
<g transform="translate(341.05 323.66)" fill="#2a2a2a" stroke="#2a2a2a" stroke-width="0.08"><text x="-5.69" font-size="7.43" font-weight="bold" letter-spacing="0.9">***</text></g>
<g transform="translate(332.00 269.00)" fill="#1e1e1e" stroke="#1e1e1e" stroke-width="0.16"><text x="-34.53" font-size="9.30">CD71</text><text x="-10.05" y="-3.35" font-size="7.07">low</text><text x="1.25" font-size="9.30">Ter119</text><text x="29.70" y="-3.35" font-size="7.07">+</text></g>
<line x1="429.70" y1="274.80" x2="429.70" y2="332.40" stroke="#1e1e1e" stroke-width="1.15" />
<line x1="429.20" y1="331.90" x2="513.70" y2="331.90" stroke="#1e1e1e" stroke-width="1.15" />
<line x1="426.70" y1="331.90" x2="429.70" y2="331.90" stroke="#1e1e1e" stroke-width="1.15" />
<g transform="translate(423.90 334.70)" fill="#1e1e1e" stroke="#1e1e1e" stroke-width="0.16"><text x="-4.45" font-size="8.00">0</text></g>
<line x1="426.70" y1="321.00" x2="429.70" y2="321.00" stroke="#1e1e1e" stroke-width="1.15" />
<g transform="translate(423.90 323.80)" fill="#1e1e1e" stroke="#1e1e1e" stroke-width="0.16"><text x="-8.90" font-size="8.00">20</text></g>
<line x1="426.70" y1="310.10" x2="429.70" y2="310.10" stroke="#1e1e1e" stroke-width="1.15" />
<g transform="translate(423.90 312.90)" fill="#1e1e1e" stroke="#1e1e1e" stroke-width="0.16"><text x="-8.90" font-size="8.00">40</text></g>
<line x1="426.70" y1="299.20" x2="429.70" y2="299.20" stroke="#1e1e1e" stroke-width="1.15" />
<g transform="translate(423.90 302.00)" fill="#1e1e1e" stroke="#1e1e1e" stroke-width="0.16"><text x="-8.90" font-size="8.00">60</text></g>
<line x1="426.70" y1="288.30" x2="429.70" y2="288.30" stroke="#1e1e1e" stroke-width="1.15" />
<g transform="translate(423.90 291.10)" fill="#1e1e1e" stroke="#1e1e1e" stroke-width="0.16"><text x="-8.90" font-size="8.00">80</text></g>
<line x1="426.70" y1="277.40" x2="429.70" y2="277.40" stroke="#1e1e1e" stroke-width="1.15" />
<g transform="translate(423.90 280.20)" fill="#1e1e1e" stroke="#1e1e1e" stroke-width="0.16"><text x="-13.35" font-size="8.00">100</text></g>
<line x1="443.50" y1="331.90" x2="443.50" y2="334.10" stroke="#1e1e1e" stroke-width="1.15" />
<g transform="translate(443.50 344.80)" fill="#1e1e1e" stroke="#1e1e1e" stroke-width="0.16"><text x="-5.34" font-size="8.00">G1</text></g>
<rect x="433.20" y="318.00" width="5.20" height="13.90" fill="#c80f2e" />
<line x1="435.80" y1="318.30" x2="435.80" y2="316.64" stroke="#2a2a2a" stroke-width="0.9" />
<line x1="434.10" y1="316.64" x2="437.50" y2="316.64" stroke="#2a2a2a" stroke-width="1.0" />
<rect x="440.90" y="292.66" width="5.20" height="39.24" fill="#164a84" />
<line x1="443.50" y1="292.96" x2="443.50" y2="290.48" stroke="#2a2a2a" stroke-width="0.9" />
<line x1="441.80" y1="290.48" x2="445.20" y2="290.48" stroke="#2a2a2a" stroke-width="1.0" />
<rect x="448.50" y="302.47" width="5.20" height="29.43" fill="#2ba6e0" />
<line x1="451.10" y1="302.77" x2="451.10" y2="299.75" stroke="#2a2a2a" stroke-width="0.9" />
<line x1="449.40" y1="299.75" x2="452.80" y2="299.75" stroke="#2a2a2a" stroke-width="1.0" />
<line x1="471.30" y1="331.90" x2="471.30" y2="334.10" stroke="#1e1e1e" stroke-width="1.15" />
<g transform="translate(471.30 344.80)" fill="#1e1e1e" stroke="#1e1e1e" stroke-width="0.16"><text x="-2.67" font-size="8.00">S</text></g>
<rect x="461.00" y="327.54" width="5.20" height="4.36" fill="#c80f2e" />
<line x1="463.60" y1="327.84" x2="463.60" y2="326.18" stroke="#2a2a2a" stroke-width="0.9" />
<line x1="461.90" y1="326.18" x2="465.30" y2="326.18" stroke="#2a2a2a" stroke-width="1.0" />
<rect x="468.70" y="328.63" width="5.20" height="3.27" fill="#164a84" />
<line x1="471.30" y1="328.93" x2="471.30" y2="325.90" stroke="#2a2a2a" stroke-width="0.9" />
<line x1="469.60" y1="325.90" x2="473.00" y2="325.90" stroke="#2a2a2a" stroke-width="1.0" />
<rect x="476.30" y="330.81" width="5.20" height="1.09" fill="#2ba6e0" />
<line x1="478.90" y1="331.11" x2="478.90" y2="330.26" stroke="#2a2a2a" stroke-width="0.9" />
<line x1="477.20" y1="330.26" x2="480.60" y2="330.26" stroke="#2a2a2a" stroke-width="1.0" />
<line x1="499.10" y1="331.90" x2="499.10" y2="334.10" stroke="#1e1e1e" stroke-width="1.15" />
<g transform="translate(499.10 344.80)" fill="#1e1e1e" stroke="#1e1e1e" stroke-width="0.16"><text x="-5.34" font-size="8.00">G2</text></g>
<rect x="488.80" y="331.63" width="5.20" height="0.27" fill="#c80f2e" />
<rect x="496.50" y="330.81" width="5.20" height="1.09" fill="#164a84" />
<line x1="499.10" y1="331.11" x2="499.10" y2="330.26" stroke="#2a2a2a" stroke-width="0.9" />
<line x1="497.40" y1="330.26" x2="500.80" y2="330.26" stroke="#2a2a2a" stroke-width="1.0" />
<rect x="504.10" y="330.81" width="5.20" height="1.09" fill="#2ba6e0" />
<line x1="506.70" y1="331.11" x2="506.70" y2="330.26" stroke="#2a2a2a" stroke-width="0.9" />
<line x1="505.00" y1="330.26" x2="508.40" y2="330.26" stroke="#2a2a2a" stroke-width="1.0" />
<g transform="translate(443.95 290.96)" fill="#2a2a2a" stroke="#2a2a2a" stroke-width="0.08"><text x="-7.59" font-size="7.43" font-weight="bold" letter-spacing="0.9">****</text></g>
<g transform="translate(451.55 300.22)" fill="#2a2a2a" stroke="#2a2a2a" stroke-width="0.08"><text x="-3.79" font-size="7.43" font-weight="bold" letter-spacing="0.9">**</text></g>
<g transform="translate(479.35 331.29)" fill="#2a2a2a" stroke="#2a2a2a" stroke-width="0.08"><text x="-1.90" font-size="7.43" font-weight="bold" letter-spacing="0.9">*</text></g>
<g transform="translate(499.55 331.29)" fill="#2a2a2a" stroke="#2a2a2a" stroke-width="0.08"><text x="-3.79" font-size="7.43" font-weight="bold" letter-spacing="0.9">**</text></g>
<g transform="translate(507.15 331.29)" fill="#2a2a2a" stroke="#2a2a2a" stroke-width="0.08"><text x="-1.90" font-size="7.43" font-weight="bold" letter-spacing="0.9">*</text></g>
<g transform="translate(470.30 269.00)" fill="#1e1e1e" stroke="#1e1e1e" stroke-width="0.16"><text x="-31.29" font-size="9.30">CD71</text><text x="-6.81" y="-3.35" font-size="7.07">−</text><text x="-1.98" font-size="9.30">Ter119</text><text x="26.46" y="-3.35" font-size="7.07">+</text></g>
<rect x="249.00" y="354.20" width="4.90" height="4.90" fill="#c80f2e" />
<g transform="translate(257.00 358.70) scale(0.9946 1)" fill="#1e1e1e" stroke="#1e1e1e" stroke-width="0.16"><text x="0.00" font-size="7.40">shControl</text></g>
<rect x="293.60" y="354.20" width="4.90" height="4.90" fill="#164a84" />
<g transform="translate(301.60 358.70) scale(0.9370 1)" fill="#1e1e1e" stroke="#1e1e1e" stroke-width="0.16"><text x="0.00" font-size="7.40">sh</text><text x="7.82" font-size="7.40" font-style="italic">Ssx2ip</text><text x="30.03" font-size="7.40">-1</text></g>
<rect x="346.20" y="354.20" width="4.90" height="4.90" fill="#2ba6e0" />
<g transform="translate(354.20 358.70) scale(0.9670 1)" fill="#1e1e1e" stroke="#1e1e1e" stroke-width="0.16"><text x="0.00" font-size="7.40">sh</text><text x="7.82" font-size="7.40" font-style="italic">Ssx2ip</text><text x="30.03" font-size="7.40">-2</text></g>
<line x1="20.00" y1="390.40" x2="512.00" y2="390.40" stroke="#2a2a2a" stroke-width="1.1" />
<g transform="translate(191.00 385.00) scale(1.0984 1)" fill="#1e1e1e" stroke="#1e1e1e" stroke-width="0.16"><text x="0.00" font-size="8.60">48 Hours - R3 Cells (CD71</text><text x="102.28" y="-3.61" font-size="6.02">+</text><text x="105.79" font-size="8.60">Ter119</text><text x="131.45" y="-3.61" font-size="6.02">+</text><text x="134.97" font-size="8.60">)</text></g>
<g transform="translate(137.30 401.40) scale(0.9712 1)" fill="#333" stroke="#333" stroke-width="0.1"><text x="-17.81" font-size="7.20">Generation</text></g>
<line x1="120.00" y1="402.70" x2="154.60" y2="402.70" stroke="#444" stroke-width="0.7" />
<g transform="translate(119.80 412.30)" fill="#333" stroke="#333" stroke-width="0.12"><text x="-2.06" font-size="7.40">5</text></g>
<rect x="117.20" y="414.60" width="5.20" height="5.20" fill="#84c5e8" />
<g transform="translate(131.42 412.30)" fill="#333" stroke="#333" stroke-width="0.12"><text x="-2.06" font-size="7.40">6</text></g>
<rect x="128.82" y="414.60" width="5.20" height="5.20" fill="#f6ea8c" />
<g transform="translate(143.04 412.30)" fill="#333" stroke="#333" stroke-width="0.12"><text x="-2.06" font-size="7.40">7</text></g>
<rect x="140.44" y="414.60" width="5.20" height="5.20" fill="#ef8b87" />
<g transform="translate(154.66 412.30)" fill="#333" stroke="#333" stroke-width="0.12"><text x="-2.06" font-size="7.40">8</text></g>
<rect x="152.06" y="414.60" width="5.20" height="5.20" fill="#b28ac6" />
<path d="M39.90,497.98 L40.14,497.96 L40.38,497.94 L40.62,497.90 L40.86,497.84 L41.10,497.75 L41.34,497.64 L41.58,497.49 L41.82,497.32 L42.06,497.11 L42.30,496.89 L42.54,496.67 L42.78,496.48 L43.02,496.32 L43.26,496.21 L43.50,496.18 L43.74,496.21 L43.98,496.32 L44.22,496.48 L44.46,496.67 L44.70,496.89 L44.94,497.11 L45.18,497.32 L45.42,497.49 L45.66,497.64 L45.90,497.75 L46.14,497.84 L46.38,497.90 L46.62,497.94 L46.86,497.96 L47.10,497.98 Z" fill="#d0d0d0"/>
<path d="M43.10,497.98 L43.36,497.96 L43.62,497.93 L43.88,497.88 L44.14,497.81 L44.40,497.70 L44.66,497.57 L44.92,497.39 L45.18,497.18 L45.44,496.93 L45.70,496.67 L45.96,496.41 L46.22,496.17 L46.48,495.98 L46.74,495.85 L47.00,495.81 L47.26,495.85 L47.52,495.98 L47.78,496.17 L48.04,496.41 L48.30,496.67 L48.56,496.93 L48.82,497.18 L49.08,497.39 L49.34,497.57 L49.60,497.70 L49.86,497.81 L50.12,497.88 L50.38,497.93 L50.64,497.96 L50.90,497.98 Z" fill="#d6d6d6"/>
<path d="M46.30,497.97 L46.58,497.94 L46.86,497.90 L47.14,497.83 L47.42,497.73 L47.70,497.59 L47.98,497.39 L48.26,497.15 L48.54,496.85 L48.82,496.51 L49.10,496.14 L49.38,495.77 L49.66,495.44 L49.94,495.17 L50.22,494.99 L50.50,494.93 L50.78,494.99 L51.06,495.17 L51.34,495.44 L51.62,495.77 L51.90,496.14 L52.18,496.51 L52.46,496.85 L52.74,497.15 L53.02,497.39 L53.30,497.59 L53.58,497.73 L53.86,497.83 L54.14,497.90 L54.42,497.94 L54.70,497.97 Z" fill="#cfcfcf"/>
<path d="M50.00,497.97 L50.30,497.94 L50.60,497.91 L50.90,497.84 L51.20,497.75 L51.50,497.62 L51.80,497.45 L52.10,497.23 L52.40,496.96 L52.70,496.65 L53.00,496.32 L53.30,495.99 L53.60,495.68 L53.90,495.44 L54.20,495.28 L54.50,495.23 L54.80,495.28 L55.10,495.44 L55.40,495.68 L55.70,495.99 L56.00,496.32 L56.30,496.65 L56.60,496.96 L56.90,497.23 L57.20,497.45 L57.50,497.62 L57.80,497.75 L58.10,497.84 L58.40,497.91 L58.70,497.94 L59.00,497.97 Z" fill="#d8d8d8"/>
<g style="isolation:isolate">
<path d="M81.01,497.97 L81.32,497.96 L81.63,497.93 L81.94,497.90 L82.25,497.85 L82.56,497.79 L82.87,497.70 L83.18,497.59 L83.49,497.44 L83.80,497.25 L84.11,497.02 L84.42,496.74 L84.73,496.40 L85.04,496.01 L85.35,495.57 L85.66,495.09 L85.97,494.58 L86.28,494.04 L86.59,493.51 L86.90,492.99 L87.21,492.52 L87.52,492.11 L87.83,491.78 L88.14,491.56 L88.45,491.44 L88.76,491.45 L89.08,491.56 L89.39,491.77 L89.70,492.08 L90.01,492.47 L90.32,492.91 L90.63,493.40 L90.94,493.91 L91.25,494.42 L91.56,494.92 L91.87,495.40 L92.18,495.84 L92.49,496.23 L92.80,496.58 L93.11,496.87 L93.42,497.12 L93.73,497.33 L94.04,497.50 L94.35,497.63 L94.66,497.73 L94.97,497.81 L95.28,497.86 L95.59,497.91 L95.90,497.94 L96.21,497.96 L96.52,497.97 Z" fill="#84c5e8" style="mix-blend-mode:multiply"/>
<path d="M70.55,497.76 L70.94,497.60 L71.33,497.36 L71.72,497.00 L72.11,496.46 L72.50,495.69 L72.89,494.62 L73.28,493.17 L73.67,491.27 L74.05,488.84 L74.44,485.84 L74.83,482.24 L75.22,478.07 L75.61,473.39 L76.00,468.35 L76.39,463.13 L76.78,457.97 L77.17,453.15 L77.56,448.95 L77.95,445.65 L78.34,443.46 L78.73,442.54 L79.12,442.76 L79.51,443.70 L79.90,445.33 L80.28,447.57 L80.67,450.34 L81.06,453.55 L81.45,457.08 L81.84,460.83 L82.23,464.67 L82.62,468.50 L83.01,472.23 L83.40,475.79 L83.79,479.10 L84.18,482.13 L84.57,484.84 L84.96,487.24 L85.35,489.31 L85.74,491.08 L86.13,492.56 L86.52,493.77 L86.90,494.76 L87.29,495.55 L87.68,496.17 L88.07,496.65 L88.46,497.02 L88.85,497.30 L89.24,497.50 L89.63,497.65 L90.02,497.76 Z" fill="#f6ea8c" style="mix-blend-mode:multiply"/>
<path d="M61.63,497.83 L61.99,497.74 L62.36,497.62 L62.72,497.45 L63.08,497.22 L63.45,496.90 L63.81,496.47 L64.17,495.91 L64.53,495.19 L64.90,494.29 L65.26,493.16 L65.62,491.80 L65.99,490.17 L66.35,488.27 L66.71,486.10 L67.08,483.67 L67.44,481.01 L67.80,478.17 L68.16,475.21 L68.53,472.22 L68.89,469.30 L69.25,466.53 L69.62,464.04 L69.98,461.92 L70.34,460.27 L70.70,459.15 L71.07,458.62 L71.43,458.74 L71.79,459.60 L72.16,461.16 L72.52,463.35 L72.88,466.03 L73.25,469.08 L73.61,472.34 L73.97,475.67 L74.34,478.94 L74.70,482.05 L75.06,484.91 L75.42,487.47 L75.79,489.69 L76.15,491.56 L76.51,493.11 L76.88,494.36 L77.24,495.34 L77.60,496.10 L77.97,496.66 L78.33,497.08 L78.69,497.38 L79.05,497.59 L79.42,497.73 L79.78,497.83 Z" fill="#ef8b87" style="mix-blend-mode:multiply"/>
</g>
<path d="M81.01,497.97 L81.32,497.96 L81.63,497.93 L81.94,497.90 L82.25,497.85 L82.56,497.79 L82.87,497.70 L83.18,497.59 L83.49,497.44 L83.80,497.25 L84.11,497.02 L84.42,496.74 L84.73,496.40 L85.04,496.01 L85.35,495.57 L85.66,495.09 L85.97,494.58 L86.28,494.04 L86.59,493.51 L86.90,492.99 L87.21,492.52 L87.52,492.11 L87.83,491.78 L88.14,491.56 L88.45,491.44 L88.76,491.45 L89.08,491.56 L89.39,491.77 L89.70,492.08 L90.01,492.47 L90.32,492.91 L90.63,493.40 L90.94,493.91 L91.25,494.42 L91.56,494.92 L91.87,495.40 L92.18,495.84 L92.49,496.23 L92.80,496.58 L93.11,496.87 L93.42,497.12 L93.73,497.33 L94.04,497.50 L94.35,497.63 L94.66,497.73 L94.97,497.81 L95.28,497.86 L95.59,497.91 L95.90,497.94 L96.21,497.96 L96.52,497.97" fill="none" stroke="#36342a" stroke-width="0.95"/>
<path d="M70.55,497.76 L70.94,497.60 L71.33,497.36 L71.72,497.00 L72.11,496.46 L72.50,495.69 L72.89,494.62 L73.28,493.17 L73.67,491.27 L74.05,488.84 L74.44,485.84 L74.83,482.24 L75.22,478.07 L75.61,473.39 L76.00,468.35 L76.39,463.13 L76.78,457.97 L77.17,453.15 L77.56,448.95 L77.95,445.65 L78.34,443.46 L78.73,442.54 L79.12,442.76 L79.51,443.70 L79.90,445.33 L80.28,447.57 L80.67,450.34 L81.06,453.55 L81.45,457.08 L81.84,460.83 L82.23,464.67 L82.62,468.50 L83.01,472.23 L83.40,475.79 L83.79,479.10 L84.18,482.13 L84.57,484.84 L84.96,487.24 L85.35,489.31 L85.74,491.08 L86.13,492.56 L86.52,493.77 L86.90,494.76 L87.29,495.55 L87.68,496.17 L88.07,496.65 L88.46,497.02 L88.85,497.30 L89.24,497.50 L89.63,497.65 L90.02,497.76" fill="none" stroke="#36342a" stroke-width="0.95"/>
<path d="M61.63,497.83 L61.99,497.74 L62.36,497.62 L62.72,497.45 L63.08,497.22 L63.45,496.90 L63.81,496.47 L64.17,495.91 L64.53,495.19 L64.90,494.29 L65.26,493.16 L65.62,491.80 L65.99,490.17 L66.35,488.27 L66.71,486.10 L67.08,483.67 L67.44,481.01 L67.80,478.17 L68.16,475.21 L68.53,472.22 L68.89,469.30 L69.25,466.53 L69.62,464.04 L69.98,461.92 L70.34,460.27 L70.70,459.15 L71.07,458.62 L71.43,458.74 L71.79,459.60 L72.16,461.16 L72.52,463.35 L72.88,466.03 L73.25,469.08 L73.61,472.34 L73.97,475.67 L74.34,478.94 L74.70,482.05 L75.06,484.91 L75.42,487.47 L75.79,489.69 L76.15,491.56 L76.51,493.11 L76.88,494.36 L77.24,495.34 L77.60,496.10 L77.97,496.66 L78.33,497.08 L78.69,497.38 L79.05,497.59 L79.42,497.73 L79.78,497.83" fill="none" stroke="#36342a" stroke-width="0.95"/>
<path d="M71.67,457.68 L71.91,457.23 L72.15,456.78 L72.38,456.33 L72.62,455.88 L72.86,455.43 L73.09,454.97 L73.33,454.52 L73.57,454.04 L73.80,453.46 L74.04,452.89 L74.28,452.31 L74.51,451.73 L74.75,451.16 L74.99,450.58 L75.22,450.01 L75.46,449.43 L75.70,448.85 L75.93,448.28 L76.17,447.70 L76.41,447.13 L76.64,446.58 L76.88,446.05 L77.12,445.52 L77.35,445.00 L77.59,444.47 L77.83,443.94" fill="none" stroke="#7a7a7a" stroke-width="0.9" stroke-dasharray="1.4 0.9"/>
<path d="M42.20,496.98 L42.73,496.51 L43.25,496.18 L43.78,496.12 L44.30,496.29 L44.83,496.47 L45.35,496.46 L45.88,496.22 L46.40,495.89 L46.93,495.66 L47.45,495.64 L47.98,495.74 L48.51,495.77 L49.03,495.58 L49.56,495.23 L50.08,494.90 L50.61,494.80 L51.13,494.99 L51.66,495.36 L52.18,495.67 L52.71,495.76 L53.23,495.60 L53.76,495.33 L54.29,495.15 L54.81,495.20 L55.34,495.50 L55.86,495.93 L56.39,496.34 L56.91,496.61 L57.44,496.74 L57.96,496.77 L58.49,496.79 L59.01,496.85 L59.54,496.92 L60.07,496.98 L60.59,496.99 L61.12,496.97 L61.64,496.98 L62.17,497.01 L62.69,497.00 L63.22,496.84 L63.74,496.42 L64.27,495.68 L64.79,494.54 L65.32,492.95 L65.85,490.83" fill="none" stroke="#151515" stroke-width="1.15"/>
<path d="M86.86,489.73 L87.39,490.00 L87.91,490.18 L88.44,490.44 L88.97,490.85 L89.49,491.44 L90.02,492.19 L90.54,493.04 L91.07,493.92 L91.59,494.75 L92.12,495.47 L92.64,496.04 L93.17,496.46 L93.69,496.73 L94.22,496.89 L94.75,496.98 L95.27,497.02 L95.80,497.05 L96.32,497.09 L96.85,497.15 L97.37,497.24 L97.90,497.34 L98.42,497.45 L98.95,497.56 L99.47,497.67 L100.00,497.76" fill="none" stroke="#151515" stroke-width="1.15"/>
<line x1="41.60" y1="437.80" x2="41.60" y2="498.50" stroke="#1e1e1e" stroke-width="1.15" />
<line x1="41.10" y1="498.00" x2="100.60" y2="498.00" stroke="#1e1e1e" stroke-width="1.15" />
<line x1="38.60" y1="498.00" x2="41.60" y2="498.00" stroke="#1e1e1e" stroke-width="1.15" />
<g transform="translate(37.00 500.50) scale(1.0800 1)" fill="#1e1e1e" stroke="#1e1e1e" stroke-width="0.16"><text x="-4.12" font-size="7.40">0</text></g>
<line x1="38.60" y1="483.40" x2="41.60" y2="483.40" stroke="#1e1e1e" stroke-width="1.15" />
<g transform="translate(37.00 485.90) scale(1.0800 1)" fill="#1e1e1e" stroke="#1e1e1e" stroke-width="0.16"><text x="-12.35" font-size="7.40">200</text></g>
<line x1="38.60" y1="468.80" x2="41.60" y2="468.80" stroke="#1e1e1e" stroke-width="1.15" />
<g transform="translate(37.00 471.30) scale(1.0800 1)" fill="#1e1e1e" stroke="#1e1e1e" stroke-width="0.16"><text x="-12.35" font-size="7.40">400</text></g>
<line x1="38.60" y1="454.20" x2="41.60" y2="454.20" stroke="#1e1e1e" stroke-width="1.15" />
<g transform="translate(37.00 456.70) scale(1.0800 1)" fill="#1e1e1e" stroke="#1e1e1e" stroke-width="0.16"><text x="-12.35" font-size="7.40">600</text></g>
<line x1="38.60" y1="439.60" x2="41.60" y2="439.60" stroke="#1e1e1e" stroke-width="1.15" />
<g transform="translate(37.00 442.10) scale(1.0800 1)" fill="#1e1e1e" stroke="#1e1e1e" stroke-width="0.16"><text x="-12.35" font-size="7.40">800</text></g>
<line x1="41.60" y1="498.00" x2="43.00" y2="498.00" stroke="#1e1e1e" stroke-width="0.7" />
<line x1="41.60" y1="494.35" x2="43.00" y2="494.35" stroke="#1e1e1e" stroke-width="0.7" />
<line x1="41.60" y1="490.70" x2="43.00" y2="490.70" stroke="#1e1e1e" stroke-width="0.7" />
<line x1="41.60" y1="487.05" x2="43.00" y2="487.05" stroke="#1e1e1e" stroke-width="0.7" />
<line x1="41.60" y1="483.40" x2="43.00" y2="483.40" stroke="#1e1e1e" stroke-width="0.7" />
<line x1="41.60" y1="479.75" x2="43.00" y2="479.75" stroke="#1e1e1e" stroke-width="0.7" />
<line x1="41.60" y1="476.10" x2="43.00" y2="476.10" stroke="#1e1e1e" stroke-width="0.7" />
<line x1="41.60" y1="472.45" x2="43.00" y2="472.45" stroke="#1e1e1e" stroke-width="0.7" />
<line x1="41.60" y1="468.80" x2="43.00" y2="468.80" stroke="#1e1e1e" stroke-width="0.7" />
<line x1="41.60" y1="465.15" x2="43.00" y2="465.15" stroke="#1e1e1e" stroke-width="0.7" />
<line x1="41.60" y1="461.50" x2="43.00" y2="461.50" stroke="#1e1e1e" stroke-width="0.7" />
<line x1="41.60" y1="457.85" x2="43.00" y2="457.85" stroke="#1e1e1e" stroke-width="0.7" />
<line x1="41.60" y1="454.20" x2="43.00" y2="454.20" stroke="#1e1e1e" stroke-width="0.7" />
<line x1="41.60" y1="450.55" x2="43.00" y2="450.55" stroke="#1e1e1e" stroke-width="0.7" />
<line x1="41.60" y1="446.90" x2="43.00" y2="446.90" stroke="#1e1e1e" stroke-width="0.7" />
<line x1="41.60" y1="443.25" x2="43.00" y2="443.25" stroke="#1e1e1e" stroke-width="0.7" />
<line x1="41.60" y1="439.60" x2="43.00" y2="439.60" stroke="#1e1e1e" stroke-width="0.7" />
<line x1="46.45" y1="498.00" x2="46.45" y2="500.30" stroke="#1e1e1e" stroke-width="0.8" />
<line x1="49.33" y1="498.00" x2="49.33" y2="499.50" stroke="#1e1e1e" stroke-width="0.8" />
<line x1="52.21" y1="498.00" x2="52.21" y2="499.50" stroke="#1e1e1e" stroke-width="0.8" />
<line x1="55.09" y1="498.00" x2="55.09" y2="499.50" stroke="#1e1e1e" stroke-width="0.8" />
<line x1="57.97" y1="498.00" x2="57.97" y2="500.30" stroke="#1e1e1e" stroke-width="0.8" />
<line x1="60.85" y1="498.00" x2="60.85" y2="499.50" stroke="#1e1e1e" stroke-width="0.8" />
<line x1="63.73" y1="498.00" x2="63.73" y2="499.50" stroke="#1e1e1e" stroke-width="0.8" />
<line x1="66.61" y1="498.00" x2="66.61" y2="499.50" stroke="#1e1e1e" stroke-width="0.8" />
<line x1="69.49" y1="498.00" x2="69.49" y2="500.30" stroke="#1e1e1e" stroke-width="0.8" />
<line x1="72.37" y1="498.00" x2="72.37" y2="499.50" stroke="#1e1e1e" stroke-width="0.8" />
<line x1="75.25" y1="498.00" x2="75.25" y2="499.50" stroke="#1e1e1e" stroke-width="0.8" />
<line x1="78.13" y1="498.00" x2="78.13" y2="499.50" stroke="#1e1e1e" stroke-width="0.8" />
<line x1="81.01" y1="498.00" x2="81.01" y2="500.30" stroke="#1e1e1e" stroke-width="0.8" />
<line x1="83.89" y1="498.00" x2="83.89" y2="499.50" stroke="#1e1e1e" stroke-width="0.8" />
<line x1="86.77" y1="498.00" x2="86.77" y2="499.50" stroke="#1e1e1e" stroke-width="0.8" />
<line x1="89.65" y1="498.00" x2="89.65" y2="499.50" stroke="#1e1e1e" stroke-width="0.8" />
<line x1="92.53" y1="498.00" x2="92.53" y2="500.30" stroke="#1e1e1e" stroke-width="0.8" />
<line x1="95.41" y1="498.00" x2="95.41" y2="499.50" stroke="#1e1e1e" stroke-width="0.8" />
<line x1="98.29" y1="498.00" x2="98.29" y2="499.50" stroke="#1e1e1e" stroke-width="0.8" />
<g transform="translate(46.45 511.70) scale(1.0331 1)" fill="#1e1e1e" stroke="#1e1e1e" stroke-width="0.16"><text x="-6.34" font-size="7.60">100</text></g>
<g transform="translate(69.50 511.70) scale(1.0331 1)" fill="#1e1e1e" stroke="#1e1e1e" stroke-width="0.16"><text x="-6.34" font-size="7.60">140</text></g>
<g transform="translate(92.50 511.70) scale(1.0331 1)" fill="#1e1e1e" stroke="#1e1e1e" stroke-width="0.16"><text x="-6.34" font-size="7.60">180</text></g>
<g transform="translate(71.70 430.70) scale(1.0324 1)" fill="#1e1e1e" stroke="#1e1e1e" stroke-width="0.16"><text x="-18.40" font-size="8.60">shControl</text></g>
<path d="M122.60,497.98 L122.86,497.96 L123.12,497.93 L123.38,497.88 L123.64,497.81 L123.90,497.71 L124.16,497.58 L124.42,497.41 L124.68,497.20 L124.94,496.96 L125.20,496.71 L125.46,496.45 L125.72,496.22 L125.98,496.03 L126.24,495.91 L126.50,495.87 L126.76,495.91 L127.02,496.03 L127.28,496.22 L127.54,496.45 L127.80,496.71 L128.06,496.96 L128.32,497.20 L128.58,497.41 L128.84,497.58 L129.10,497.71 L129.36,497.81 L129.62,497.88 L129.88,497.93 L130.14,497.96 L130.40,497.98 Z" fill="#aab2dc"/>
<path d="M124.90,497.96 L125.26,497.93 L125.62,497.88 L125.98,497.81 L126.34,497.70 L126.70,497.54 L127.06,497.33 L127.42,497.06 L127.78,496.73 L128.14,496.35 L128.50,495.94 L128.86,495.53 L129.22,495.16 L129.58,494.87 L129.94,494.67 L130.30,494.61 L130.66,494.67 L131.02,494.87 L131.38,495.16 L131.74,495.53 L132.10,495.94 L132.46,496.35 L132.82,496.73 L133.18,497.06 L133.54,497.33 L133.90,497.54 L134.26,497.70 L134.62,497.81 L134.98,497.88 L135.34,497.93 L135.70,497.96 Z" fill="#b4bde0"/>
<path d="M129.80,497.94 L130.20,497.90 L130.60,497.83 L131.00,497.72 L131.40,497.55 L131.80,497.32 L132.20,497.00 L132.60,496.60 L133.00,496.11 L133.40,495.54 L133.80,494.94 L134.20,494.34 L134.60,493.79 L135.00,493.34 L135.40,493.06 L135.80,492.96 L136.20,493.06 L136.60,493.34 L137.00,493.79 L137.40,494.34 L137.80,494.94 L138.20,495.54 L138.60,496.11 L139.00,496.60 L139.40,497.00 L139.80,497.32 L140.20,497.55 L140.60,497.72 L141.00,497.83 L141.40,497.90 L141.80,497.94 Z" fill="#cfe6cf"/>
<g style="isolation:isolate">
<path d="M140.59,497.97 L140.81,497.96 L141.04,497.94 L141.26,497.91 L141.49,497.88 L141.71,497.82 L141.94,497.75 L142.16,497.65 L142.39,497.53 L142.61,497.37 L142.83,497.18 L143.06,496.94 L143.28,496.66 L143.51,496.34 L143.73,495.97 L143.96,495.56 L144.18,495.13 L144.40,494.67 L144.63,494.20 L144.85,493.75 L145.08,493.32 L145.30,492.94 L145.53,492.62 L145.75,492.38 L145.98,492.23 L146.20,492.18 L146.42,492.23 L146.65,492.38 L146.87,492.62 L147.10,492.94 L147.32,493.32 L147.55,493.75 L147.77,494.20 L148.00,494.67 L148.22,495.13 L148.44,495.56 L148.67,495.97 L148.89,496.34 L149.12,496.66 L149.34,496.94 L149.57,497.18 L149.79,497.37 L150.01,497.53 L150.24,497.65 L150.46,497.75 L150.69,497.82 L150.91,497.88 L151.14,497.91 L151.36,497.94 L151.59,497.96 L151.81,497.97 Z" fill="#b28ac6" style="mix-blend-mode:multiply"/>
<path d="M162.58,497.97 L162.91,497.95 L163.24,497.93 L163.57,497.89 L163.90,497.85 L164.23,497.78 L164.56,497.68 L164.89,497.56 L165.22,497.40 L165.55,497.19 L165.88,496.94 L166.21,496.63 L166.54,496.26 L166.87,495.84 L167.20,495.36 L167.53,494.84 L167.86,494.29 L168.19,493.73 L168.52,493.17 L168.85,492.64 L169.18,492.16 L169.51,491.76 L169.84,491.46 L170.17,491.27 L170.50,491.21 L170.83,491.26 L171.16,491.43 L171.49,491.68 L171.82,492.03 L172.15,492.45 L172.48,492.92 L172.81,493.42 L173.14,493.95 L173.47,494.46 L173.80,494.97 L174.13,495.44 L174.46,495.87 L174.79,496.26 L175.12,496.60 L175.45,496.89 L175.78,497.14 L176.11,497.34 L176.44,497.50 L176.77,497.63 L177.10,497.73 L177.43,497.81 L177.76,497.86 L178.09,497.90 L178.42,497.93 L178.75,497.96 L179.08,497.97 Z" fill="#84c5e8" style="mix-blend-mode:multiply"/>
<path d="M155.23,497.84 L155.55,497.72 L155.88,497.54 L156.20,497.25 L156.52,496.81 L156.85,496.16 L157.17,495.25 L157.49,494.01 L157.82,492.37 L158.14,490.28 L158.46,487.72 L158.79,484.70 L159.11,481.28 L159.43,477.59 L159.76,473.79 L160.08,470.11 L160.40,466.79 L160.73,464.06 L161.05,462.15 L161.37,461.22 L161.70,461.22 L162.02,461.69 L162.34,462.57 L162.67,463.83 L162.99,465.43 L163.31,467.30 L163.64,469.41 L163.96,471.68 L164.29,474.05 L164.61,476.45 L164.93,478.84 L165.26,481.16 L165.58,483.37 L165.90,485.44 L166.23,487.34 L166.55,489.06 L166.87,490.58 L167.20,491.92 L167.52,493.08 L167.84,494.06 L168.17,494.88 L168.49,495.56 L168.81,496.11 L169.14,496.56 L169.46,496.91 L169.78,497.18 L170.11,497.40 L170.43,497.56 L170.75,497.68 L171.08,497.77 L171.40,497.84 Z" fill="#f6ea8c" style="mix-blend-mode:multiply"/>
<path d="M144.30,497.79 L144.69,497.69 L145.08,497.53 L145.47,497.31 L145.86,497.01 L146.25,496.58 L146.64,496.02 L147.03,495.28 L147.42,494.32 L147.80,493.10 L148.19,491.59 L148.58,489.76 L148.97,487.58 L149.36,485.05 L149.75,482.17 L150.14,478.97 L150.53,475.51 L150.92,471.86 L151.31,468.12 L151.70,464.43 L152.09,460.90 L152.48,457.69 L152.87,454.94 L153.26,452.76 L153.65,451.27 L154.03,450.54 L154.42,450.61 L154.81,451.52 L155.20,453.23 L155.59,455.65 L155.98,458.65 L156.37,462.09 L156.76,465.82 L157.15,469.67 L157.54,473.51 L157.93,477.21 L158.32,480.66 L158.71,483.80 L159.10,486.58 L159.49,488.98 L159.88,491.00 L160.27,492.67 L160.65,494.01 L161.04,495.07 L161.43,495.88 L161.82,496.50 L162.21,496.95 L162.60,497.28 L162.99,497.52 L163.38,497.68 L163.77,497.79 Z" fill="#ef8b87" style="mix-blend-mode:multiply"/>
</g>
<path d="M140.59,497.97 L140.81,497.96 L141.04,497.94 L141.26,497.91 L141.49,497.88 L141.71,497.82 L141.94,497.75 L142.16,497.65 L142.39,497.53 L142.61,497.37 L142.83,497.18 L143.06,496.94 L143.28,496.66 L143.51,496.34 L143.73,495.97 L143.96,495.56 L144.18,495.13 L144.40,494.67 L144.63,494.20 L144.85,493.75 L145.08,493.32 L145.30,492.94 L145.53,492.62 L145.75,492.38 L145.98,492.23 L146.20,492.18 L146.42,492.23 L146.65,492.38 L146.87,492.62 L147.10,492.94 L147.32,493.32 L147.55,493.75 L147.77,494.20 L148.00,494.67 L148.22,495.13 L148.44,495.56 L148.67,495.97 L148.89,496.34 L149.12,496.66 L149.34,496.94 L149.57,497.18 L149.79,497.37 L150.01,497.53 L150.24,497.65 L150.46,497.75 L150.69,497.82 L150.91,497.88 L151.14,497.91 L151.36,497.94 L151.59,497.96 L151.81,497.97" fill="none" stroke="#36342a" stroke-width="0.95"/>
<path d="M162.58,497.97 L162.91,497.95 L163.24,497.93 L163.57,497.89 L163.90,497.85 L164.23,497.78 L164.56,497.68 L164.89,497.56 L165.22,497.40 L165.55,497.19 L165.88,496.94 L166.21,496.63 L166.54,496.26 L166.87,495.84 L167.20,495.36 L167.53,494.84 L167.86,494.29 L168.19,493.73 L168.52,493.17 L168.85,492.64 L169.18,492.16 L169.51,491.76 L169.84,491.46 L170.17,491.27 L170.50,491.21 L170.83,491.26 L171.16,491.43 L171.49,491.68 L171.82,492.03 L172.15,492.45 L172.48,492.92 L172.81,493.42 L173.14,493.95 L173.47,494.46 L173.80,494.97 L174.13,495.44 L174.46,495.87 L174.79,496.26 L175.12,496.60 L175.45,496.89 L175.78,497.14 L176.11,497.34 L176.44,497.50 L176.77,497.63 L177.10,497.73 L177.43,497.81 L177.76,497.86 L178.09,497.90 L178.42,497.93 L178.75,497.96 L179.08,497.97" fill="none" stroke="#36342a" stroke-width="0.95"/>
<path d="M155.23,497.84 L155.55,497.72 L155.88,497.54 L156.20,497.25 L156.52,496.81 L156.85,496.16 L157.17,495.25 L157.49,494.01 L157.82,492.37 L158.14,490.28 L158.46,487.72 L158.79,484.70 L159.11,481.28 L159.43,477.59 L159.76,473.79 L160.08,470.11 L160.40,466.79 L160.73,464.06 L161.05,462.15 L161.37,461.22 L161.70,461.22 L162.02,461.69 L162.34,462.57 L162.67,463.83 L162.99,465.43 L163.31,467.30 L163.64,469.41 L163.96,471.68 L164.29,474.05 L164.61,476.45 L164.93,478.84 L165.26,481.16 L165.58,483.37 L165.90,485.44 L166.23,487.34 L166.55,489.06 L166.87,490.58 L167.20,491.92 L167.52,493.08 L167.84,494.06 L168.17,494.88 L168.49,495.56 L168.81,496.11 L169.14,496.56 L169.46,496.91 L169.78,497.18 L170.11,497.40 L170.43,497.56 L170.75,497.68 L171.08,497.77 L171.40,497.84" fill="none" stroke="#36342a" stroke-width="0.95"/>
<path d="M144.30,497.79 L144.69,497.69 L145.08,497.53 L145.47,497.31 L145.86,497.01 L146.25,496.58 L146.64,496.02 L147.03,495.28 L147.42,494.32 L147.80,493.10 L148.19,491.59 L148.58,489.76 L148.97,487.58 L149.36,485.05 L149.75,482.17 L150.14,478.97 L150.53,475.51 L150.92,471.86 L151.31,468.12 L151.70,464.43 L152.09,460.90 L152.48,457.69 L152.87,454.94 L153.26,452.76 L153.65,451.27 L154.03,450.54 L154.42,450.61 L154.81,451.52 L155.20,453.23 L155.59,455.65 L155.98,458.65 L156.37,462.09 L156.76,465.82 L157.15,469.67 L157.54,473.51 L157.93,477.21 L158.32,480.66 L158.71,483.80 L159.10,486.58 L159.49,488.98 L159.88,491.00 L160.27,492.67 L160.65,494.01 L161.04,495.07 L161.43,495.88 L161.82,496.50 L162.21,496.95 L162.60,497.28 L162.99,497.52 L163.38,497.68 L163.77,497.79" fill="none" stroke="#36342a" stroke-width="0.95"/>
<path d="M154.94,450.72 L155.19,450.80 L155.43,450.89 L155.68,450.97 L155.93,451.05 L156.17,451.14 L156.42,451.22 L156.67,451.07 L156.91,450.81 L157.16,450.54 L157.41,450.28 L157.65,450.02 L157.90,449.76 L158.15,449.50 L158.39,449.23 L158.64,449.14 L158.89,449.89 L159.13,450.65 L159.38,451.40 L159.63,452.16 L159.87,452.92 L160.12,453.67 L160.37,454.43 L160.61,455.43 L160.86,456.74 L161.11,458.04" fill="none" stroke="#7a7a7a" stroke-width="0.9" stroke-dasharray="1.4 0.9"/>
<path d="M125.40,496.42 L125.93,495.89 L126.45,495.52 L126.98,495.39 L127.50,495.40 L128.03,495.40 L128.55,495.26 L129.08,494.99 L129.60,494.68 L130.13,494.49 L130.65,494.47 L131.18,494.63 L131.71,494.88 L132.23,495.06 L132.76,495.08 L133.28,494.86 L133.81,494.42 L134.33,493.87 L134.86,493.35 L135.38,493.00 L135.91,492.94 L136.43,493.19 L136.96,493.72 L137.49,494.42 L138.01,495.15 L138.54,495.77 L139.06,496.18 L139.59,496.33 L140.11,496.28 L140.64,496.14 L141.16,496.05 L141.69,496.07 L142.21,496.17 L142.74,496.19 L143.27,495.97 L143.79,495.39 L144.32,494.47 L144.84,493.33 L145.37,492.19 L145.89,491.24 L146.42,490.58 L146.94,490.16 L147.47,489.76 L147.99,489.07 L148.52,487.79" fill="none" stroke="#151515" stroke-width="1.15"/>
<path d="M166.91,488.53 L167.44,489.78 L167.96,490.49 L168.49,490.76 L169.01,490.76 L169.54,490.66 L170.06,490.61 L170.59,490.70 L171.11,490.96 L171.64,491.39 L172.17,491.95 L172.69,492.60 L173.22,493.27 L173.74,493.90 L174.27,494.47 L174.79,494.97 L175.32,495.38 L175.84,495.73 L176.37,496.03 L176.89,496.31 L177.42,496.57 L177.95,496.81 L178.47,497.05 L179.00,497.26 L179.52,497.44 L180.05,497.60 L180.57,497.72 L181.10,497.82 L181.62,497.88 L182.15,497.93 L182.67,497.96 L183.20,497.98" fill="none" stroke="#151515" stroke-width="1.15"/>
<line x1="124.80" y1="438.00" x2="124.80" y2="498.50" stroke="#1e1e1e" stroke-width="1.15" />
<line x1="124.30" y1="498.00" x2="183.80" y2="498.00" stroke="#1e1e1e" stroke-width="1.15" />
<line x1="121.80" y1="498.00" x2="124.80" y2="498.00" stroke="#1e1e1e" stroke-width="1.15" />
<g transform="translate(120.20 500.50) scale(1.0800 1)" fill="#1e1e1e" stroke="#1e1e1e" stroke-width="0.16"><text x="-4.12" font-size="7.40">0</text></g>
<line x1="121.80" y1="478.60" x2="124.80" y2="478.60" stroke="#1e1e1e" stroke-width="1.15" />
<g transform="translate(120.20 481.10) scale(1.0800 1)" fill="#1e1e1e" stroke="#1e1e1e" stroke-width="0.16"><text x="-12.35" font-size="7.40">200</text></g>
<line x1="121.80" y1="459.20" x2="124.80" y2="459.20" stroke="#1e1e1e" stroke-width="1.15" />
<g transform="translate(120.20 461.70) scale(1.0800 1)" fill="#1e1e1e" stroke="#1e1e1e" stroke-width="0.16"><text x="-12.35" font-size="7.40">400</text></g>
<line x1="121.80" y1="439.80" x2="124.80" y2="439.80" stroke="#1e1e1e" stroke-width="1.15" />
<g transform="translate(120.20 442.30) scale(1.0800 1)" fill="#1e1e1e" stroke="#1e1e1e" stroke-width="0.16"><text x="-12.35" font-size="7.40">600</text></g>
<line x1="124.80" y1="498.00" x2="126.20" y2="498.00" stroke="#1e1e1e" stroke-width="0.7" />
<line x1="124.80" y1="493.15" x2="126.20" y2="493.15" stroke="#1e1e1e" stroke-width="0.7" />
<line x1="124.80" y1="488.30" x2="126.20" y2="488.30" stroke="#1e1e1e" stroke-width="0.7" />
<line x1="124.80" y1="483.45" x2="126.20" y2="483.45" stroke="#1e1e1e" stroke-width="0.7" />
<line x1="124.80" y1="478.60" x2="126.20" y2="478.60" stroke="#1e1e1e" stroke-width="0.7" />
<line x1="124.80" y1="473.75" x2="126.20" y2="473.75" stroke="#1e1e1e" stroke-width="0.7" />
<line x1="124.80" y1="468.90" x2="126.20" y2="468.90" stroke="#1e1e1e" stroke-width="0.7" />
<line x1="124.80" y1="464.05" x2="126.20" y2="464.05" stroke="#1e1e1e" stroke-width="0.7" />
<line x1="124.80" y1="459.20" x2="126.20" y2="459.20" stroke="#1e1e1e" stroke-width="0.7" />
<line x1="124.80" y1="454.35" x2="126.20" y2="454.35" stroke="#1e1e1e" stroke-width="0.7" />
<line x1="124.80" y1="449.50" x2="126.20" y2="449.50" stroke="#1e1e1e" stroke-width="0.7" />
<line x1="124.80" y1="444.65" x2="126.20" y2="444.65" stroke="#1e1e1e" stroke-width="0.7" />
<line x1="124.80" y1="439.80" x2="126.20" y2="439.80" stroke="#1e1e1e" stroke-width="0.7" />
<line x1="129.65" y1="498.00" x2="129.65" y2="500.30" stroke="#1e1e1e" stroke-width="0.8" />
<line x1="132.53" y1="498.00" x2="132.53" y2="499.50" stroke="#1e1e1e" stroke-width="0.8" />
<line x1="135.41" y1="498.00" x2="135.41" y2="499.50" stroke="#1e1e1e" stroke-width="0.8" />
<line x1="138.29" y1="498.00" x2="138.29" y2="499.50" stroke="#1e1e1e" stroke-width="0.8" />
<line x1="141.17" y1="498.00" x2="141.17" y2="500.30" stroke="#1e1e1e" stroke-width="0.8" />
<line x1="144.05" y1="498.00" x2="144.05" y2="499.50" stroke="#1e1e1e" stroke-width="0.8" />
<line x1="146.93" y1="498.00" x2="146.93" y2="499.50" stroke="#1e1e1e" stroke-width="0.8" />
<line x1="149.81" y1="498.00" x2="149.81" y2="499.50" stroke="#1e1e1e" stroke-width="0.8" />
<line x1="152.69" y1="498.00" x2="152.69" y2="500.30" stroke="#1e1e1e" stroke-width="0.8" />
<line x1="155.57" y1="498.00" x2="155.57" y2="499.50" stroke="#1e1e1e" stroke-width="0.8" />
<line x1="158.45" y1="498.00" x2="158.45" y2="499.50" stroke="#1e1e1e" stroke-width="0.8" />
<line x1="161.33" y1="498.00" x2="161.33" y2="499.50" stroke="#1e1e1e" stroke-width="0.8" />
<line x1="164.21" y1="498.00" x2="164.21" y2="500.30" stroke="#1e1e1e" stroke-width="0.8" />
<line x1="167.09" y1="498.00" x2="167.09" y2="499.50" stroke="#1e1e1e" stroke-width="0.8" />
<line x1="169.97" y1="498.00" x2="169.97" y2="499.50" stroke="#1e1e1e" stroke-width="0.8" />
<line x1="172.85" y1="498.00" x2="172.85" y2="499.50" stroke="#1e1e1e" stroke-width="0.8" />
<line x1="175.73" y1="498.00" x2="175.73" y2="500.30" stroke="#1e1e1e" stroke-width="0.8" />
<line x1="178.61" y1="498.00" x2="178.61" y2="499.50" stroke="#1e1e1e" stroke-width="0.8" />
<line x1="181.49" y1="498.00" x2="181.49" y2="499.50" stroke="#1e1e1e" stroke-width="0.8" />
<g transform="translate(129.65 511.70) scale(1.0331 1)" fill="#1e1e1e" stroke="#1e1e1e" stroke-width="0.16"><text x="-6.34" font-size="7.60">100</text></g>
<g transform="translate(152.70 511.70) scale(1.0331 1)" fill="#1e1e1e" stroke="#1e1e1e" stroke-width="0.16"><text x="-6.34" font-size="7.60">140</text></g>
<g transform="translate(175.70 511.70) scale(1.0331 1)" fill="#1e1e1e" stroke="#1e1e1e" stroke-width="0.16"><text x="-6.34" font-size="7.60">180</text></g>
<g transform="translate(154.50 431.50) scale(1.0248 1)" fill="#1e1e1e" stroke="#1e1e1e" stroke-width="0.16"><text x="-21.27" font-size="8.60">sh</text><text x="-12.19" font-size="8.60" font-style="italic">Ssx2ip</text><text x="13.62" font-size="8.60">-1</text></g>
<path d="M205.80,497.99 L206.08,497.97 L206.36,497.96 L206.64,497.93 L206.92,497.88 L207.20,497.82 L207.48,497.74 L207.76,497.63 L208.04,497.51 L208.32,497.36 L208.60,497.20 L208.88,497.05 L209.16,496.90 L209.44,496.79 L209.72,496.71 L210.00,496.69 L210.28,496.71 L210.56,496.79 L210.84,496.90 L211.12,497.05 L211.40,497.20 L211.68,497.36 L211.96,497.51 L212.24,497.63 L212.52,497.74 L212.80,497.82 L213.08,497.88 L213.36,497.93 L213.64,497.96 L213.92,497.97 L214.20,497.99 Z" fill="#d4d4d4"/>
<path d="M209.50,497.98 L209.80,497.96 L210.10,497.93 L210.40,497.89 L210.70,497.82 L211.00,497.72 L211.30,497.60 L211.60,497.43 L211.90,497.23 L212.20,497.01 L212.50,496.76 L212.80,496.52 L213.10,496.29 L213.40,496.11 L213.70,496.00 L214.00,495.96 L214.30,496.00 L214.60,496.11 L214.90,496.29 L215.20,496.52 L215.50,496.76 L215.80,497.01 L216.10,497.23 L216.40,497.43 L216.70,497.60 L217.00,497.72 L217.30,497.82 L217.60,497.89 L217.90,497.93 L218.20,497.96 L218.50,497.98 Z" fill="#d0d0d0"/>
<path d="M214.00,497.98 L214.30,497.97 L214.60,497.95 L214.90,497.91 L215.20,497.86 L215.50,497.78 L215.80,497.68 L216.10,497.55 L216.40,497.40 L216.70,497.22 L217.00,497.03 L217.30,496.83 L217.60,496.66 L217.90,496.52 L218.20,496.43 L218.50,496.39 L218.80,496.43 L219.10,496.52 L219.40,496.66 L219.70,496.83 L220.00,497.03 L220.30,497.22 L220.60,497.40 L220.90,497.55 L221.20,497.68 L221.50,497.78 L221.80,497.86 L222.10,497.91 L222.40,497.95 L222.70,497.97 L223.00,497.98 Z" fill="#d8d8d8"/>
<g style="isolation:isolate">
<path d="M246.74,497.98 L247.05,497.97 L247.36,497.95 L247.67,497.93 L247.98,497.90 L248.29,497.85 L248.60,497.78 L248.91,497.70 L249.22,497.59 L249.53,497.44 L249.84,497.27 L250.15,497.05 L250.46,496.80 L250.77,496.51 L251.08,496.18 L251.39,495.83 L251.70,495.46 L252.01,495.09 L252.32,494.72 L252.63,494.39 L252.94,494.10 L253.25,493.86 L253.56,493.71 L253.87,493.63 L254.18,493.63 L254.50,493.71 L254.81,493.84 L255.12,494.03 L255.43,494.28 L255.74,494.56 L256.05,494.87 L256.36,495.19 L256.67,495.52 L256.98,495.84 L257.29,496.15 L257.60,496.44 L257.91,496.71 L258.22,496.94 L258.53,497.15 L258.84,497.33 L259.15,497.47 L259.46,497.60 L259.77,497.69 L260.08,497.77 L260.39,497.83 L260.70,497.88 L261.01,497.91 L261.32,497.94 L261.63,497.96 L261.94,497.97 L262.25,497.98 Z" fill="#84c5e8" style="mix-blend-mode:multiply"/>
<path d="M239.00,497.83 L239.34,497.70 L239.69,497.49 L240.03,497.16 L240.37,496.67 L240.72,495.95 L241.06,494.92 L241.40,493.52 L241.75,491.67 L242.09,489.32 L242.43,486.44 L242.78,483.06 L243.12,479.24 L243.46,475.12 L243.80,470.92 L244.15,466.87 L244.49,463.26 L244.83,460.35 L245.18,458.38 L245.52,457.52 L245.86,457.62 L246.21,458.21 L246.55,459.23 L246.89,460.66 L247.24,462.45 L247.58,464.54 L247.92,466.87 L248.27,469.37 L248.61,471.97 L248.95,474.60 L249.30,477.21 L249.64,479.73 L249.98,482.14 L250.33,484.38 L250.67,486.44 L251.01,488.31 L251.36,489.96 L251.70,491.41 L252.04,492.66 L252.38,493.72 L252.73,494.61 L253.07,495.35 L253.41,495.95 L253.76,496.43 L254.10,496.81 L254.44,497.11 L254.79,497.34 L255.13,497.52 L255.47,497.65 L255.82,497.75 L256.16,497.83 Z" fill="#f6ea8c" style="mix-blend-mode:multiply"/>
<path d="M227.44,497.76 L227.82,497.64 L228.21,497.48 L228.59,497.26 L228.97,496.95 L229.35,496.54 L229.74,496.00 L230.12,495.29 L230.50,494.39 L230.89,493.25 L231.27,491.85 L231.65,490.15 L232.03,488.12 L232.42,485.73 L232.80,483.00 L233.18,479.90 L233.56,476.49 L233.95,472.79 L234.33,468.88 L234.71,464.83 L235.10,460.76 L235.48,456.79 L235.86,453.04 L236.24,449.64 L236.63,446.73 L237.01,444.42 L237.39,442.79 L237.78,441.93 L238.16,441.89 L238.54,442.99 L238.92,445.23 L239.31,448.46 L239.69,452.49 L240.07,457.09 L240.46,462.01 L240.84,467.02 L241.22,471.90 L241.60,476.49 L241.99,480.65 L242.37,484.30 L242.75,487.42 L243.13,490.00 L243.52,492.09 L243.90,493.72 L244.28,494.97 L244.67,495.90 L245.05,496.58 L245.43,497.05 L245.81,497.39 L246.20,497.61 L246.58,497.76 Z" fill="#ef8b87" style="mix-blend-mode:multiply"/>
</g>
<path d="M246.74,497.98 L247.05,497.97 L247.36,497.95 L247.67,497.93 L247.98,497.90 L248.29,497.85 L248.60,497.78 L248.91,497.70 L249.22,497.59 L249.53,497.44 L249.84,497.27 L250.15,497.05 L250.46,496.80 L250.77,496.51 L251.08,496.18 L251.39,495.83 L251.70,495.46 L252.01,495.09 L252.32,494.72 L252.63,494.39 L252.94,494.10 L253.25,493.86 L253.56,493.71 L253.87,493.63 L254.18,493.63 L254.50,493.71 L254.81,493.84 L255.12,494.03 L255.43,494.28 L255.74,494.56 L256.05,494.87 L256.36,495.19 L256.67,495.52 L256.98,495.84 L257.29,496.15 L257.60,496.44 L257.91,496.71 L258.22,496.94 L258.53,497.15 L258.84,497.33 L259.15,497.47 L259.46,497.60 L259.77,497.69 L260.08,497.77 L260.39,497.83 L260.70,497.88 L261.01,497.91 L261.32,497.94 L261.63,497.96 L261.94,497.97 L262.25,497.98" fill="none" stroke="#36342a" stroke-width="0.95"/>
<path d="M239.00,497.83 L239.34,497.70 L239.69,497.49 L240.03,497.16 L240.37,496.67 L240.72,495.95 L241.06,494.92 L241.40,493.52 L241.75,491.67 L242.09,489.32 L242.43,486.44 L242.78,483.06 L243.12,479.24 L243.46,475.12 L243.80,470.92 L244.15,466.87 L244.49,463.26 L244.83,460.35 L245.18,458.38 L245.52,457.52 L245.86,457.62 L246.21,458.21 L246.55,459.23 L246.89,460.66 L247.24,462.45 L247.58,464.54 L247.92,466.87 L248.27,469.37 L248.61,471.97 L248.95,474.60 L249.30,477.21 L249.64,479.73 L249.98,482.14 L250.33,484.38 L250.67,486.44 L251.01,488.31 L251.36,489.96 L251.70,491.41 L252.04,492.66 L252.38,493.72 L252.73,494.61 L253.07,495.35 L253.41,495.95 L253.76,496.43 L254.10,496.81 L254.44,497.11 L254.79,497.34 L255.13,497.52 L255.47,497.65 L255.82,497.75 L256.16,497.83" fill="none" stroke="#36342a" stroke-width="0.95"/>
<path d="M227.44,497.76 L227.82,497.64 L228.21,497.48 L228.59,497.26 L228.97,496.95 L229.35,496.54 L229.74,496.00 L230.12,495.29 L230.50,494.39 L230.89,493.25 L231.27,491.85 L231.65,490.15 L232.03,488.12 L232.42,485.73 L232.80,483.00 L233.18,479.90 L233.56,476.49 L233.95,472.79 L234.33,468.88 L234.71,464.83 L235.10,460.76 L235.48,456.79 L235.86,453.04 L236.24,449.64 L236.63,446.73 L237.01,444.42 L237.39,442.79 L237.78,441.93 L238.16,441.89 L238.54,442.99 L238.92,445.23 L239.31,448.46 L239.69,452.49 L240.07,457.09 L240.46,462.01 L240.84,467.02 L241.22,471.90 L241.60,476.49 L241.99,480.65 L242.37,484.30 L242.75,487.42 L243.13,490.00 L243.52,492.09 L243.90,493.72 L244.28,494.97 L244.67,495.90 L245.05,496.58 L245.43,497.05 L245.81,497.39 L246.20,497.61 L246.58,497.76" fill="none" stroke="#36342a" stroke-width="0.95"/>
<path d="M238.76,442.86 L239.01,443.21 L239.27,443.57 L239.52,443.92 L239.77,444.28 L240.03,444.63 L240.28,444.99 L240.53,445.37 L240.79,445.93 L241.04,446.49 L241.29,447.06 L241.55,447.62 L241.80,448.18 L242.05,448.75 L242.31,449.31 L242.56,449.87 L242.81,450.47 L243.07,451.12 L243.32,451.77 L243.57,452.42 L243.83,453.06 L244.08,453.71 L244.33,454.36 L244.59,454.99 L244.84,455.60 L245.09,456.20" fill="none" stroke="#7a7a7a" stroke-width="0.9" stroke-dasharray="1.4 0.9"/>
<path d="M207.90,497.57 L208.43,497.30 L208.95,497.00 L209.48,496.75 L210.00,496.63 L210.53,496.64 L211.05,496.71 L211.58,496.75 L212.10,496.66 L212.63,496.43 L213.15,496.15 L213.68,495.95 L214.21,495.93 L214.73,496.11 L215.26,496.40 L215.78,496.68 L216.31,496.82 L216.83,496.79 L217.36,496.63 L217.88,496.45 L218.41,496.36 L218.93,496.42 L219.46,496.63 L219.99,496.88 L220.51,497.09 L221.04,497.18 L221.56,497.15 L222.09,497.06 L222.61,496.96 L223.14,496.94 L223.66,496.99 L224.19,497.07 L224.71,497.11 L225.24,497.05 L225.77,496.88 L226.29,496.68 L226.82,496.53 L227.34,496.49 L227.87,496.54 L228.39,496.58 L228.92,496.48 L229.44,496.14 L229.97,495.45 L230.49,494.35 L231.02,492.77 L231.55,490.64" fill="none" stroke="#151515" stroke-width="1.15"/>
<path d="M252.04,489.70 L252.56,490.66 L253.09,491.34 L253.61,491.90 L254.14,492.43 L254.67,492.96 L255.19,493.52 L255.72,494.10 L256.24,494.67 L256.77,495.22 L257.29,495.70 L257.82,496.11 L258.34,496.43 L258.87,496.68 L259.39,496.86 L259.92,497.00 L260.45,497.12 L260.97,497.23 L261.50,497.34 L262.02,497.45 L262.55,497.55 L263.07,497.65 L263.60,497.74 L264.12,497.81 L264.65,497.87 L265.17,497.91 L265.70,497.95" fill="none" stroke="#151515" stroke-width="1.15"/>
<line x1="207.30" y1="437.80" x2="207.30" y2="498.50" stroke="#1e1e1e" stroke-width="1.15" />
<line x1="206.80" y1="498.00" x2="266.30" y2="498.00" stroke="#1e1e1e" stroke-width="1.15" />
<line x1="204.30" y1="498.00" x2="207.30" y2="498.00" stroke="#1e1e1e" stroke-width="1.15" />
<g transform="translate(202.70 500.50) scale(1.0800 1)" fill="#1e1e1e" stroke="#1e1e1e" stroke-width="0.16"><text x="-4.12" font-size="7.40">0</text></g>
<line x1="204.30" y1="483.40" x2="207.30" y2="483.40" stroke="#1e1e1e" stroke-width="1.15" />
<g transform="translate(202.70 485.90) scale(1.0800 1)" fill="#1e1e1e" stroke="#1e1e1e" stroke-width="0.16"><text x="-12.35" font-size="7.40">200</text></g>
<line x1="204.30" y1="468.80" x2="207.30" y2="468.80" stroke="#1e1e1e" stroke-width="1.15" />
<g transform="translate(202.70 471.30) scale(1.0800 1)" fill="#1e1e1e" stroke="#1e1e1e" stroke-width="0.16"><text x="-12.35" font-size="7.40">400</text></g>
<line x1="204.30" y1="454.20" x2="207.30" y2="454.20" stroke="#1e1e1e" stroke-width="1.15" />
<g transform="translate(202.70 456.70) scale(1.0800 1)" fill="#1e1e1e" stroke="#1e1e1e" stroke-width="0.16"><text x="-12.35" font-size="7.40">600</text></g>
<line x1="204.30" y1="439.60" x2="207.30" y2="439.60" stroke="#1e1e1e" stroke-width="1.15" />
<g transform="translate(202.70 442.10) scale(1.0800 1)" fill="#1e1e1e" stroke="#1e1e1e" stroke-width="0.16"><text x="-12.35" font-size="7.40">800</text></g>
<line x1="207.30" y1="498.00" x2="208.70" y2="498.00" stroke="#1e1e1e" stroke-width="0.7" />
<line x1="207.30" y1="494.35" x2="208.70" y2="494.35" stroke="#1e1e1e" stroke-width="0.7" />
<line x1="207.30" y1="490.70" x2="208.70" y2="490.70" stroke="#1e1e1e" stroke-width="0.7" />
<line x1="207.30" y1="487.05" x2="208.70" y2="487.05" stroke="#1e1e1e" stroke-width="0.7" />
<line x1="207.30" y1="483.40" x2="208.70" y2="483.40" stroke="#1e1e1e" stroke-width="0.7" />
<line x1="207.30" y1="479.75" x2="208.70" y2="479.75" stroke="#1e1e1e" stroke-width="0.7" />
<line x1="207.30" y1="476.10" x2="208.70" y2="476.10" stroke="#1e1e1e" stroke-width="0.7" />
<line x1="207.30" y1="472.45" x2="208.70" y2="472.45" stroke="#1e1e1e" stroke-width="0.7" />
<line x1="207.30" y1="468.80" x2="208.70" y2="468.80" stroke="#1e1e1e" stroke-width="0.7" />
<line x1="207.30" y1="465.15" x2="208.70" y2="465.15" stroke="#1e1e1e" stroke-width="0.7" />
<line x1="207.30" y1="461.50" x2="208.70" y2="461.50" stroke="#1e1e1e" stroke-width="0.7" />
<line x1="207.30" y1="457.85" x2="208.70" y2="457.85" stroke="#1e1e1e" stroke-width="0.7" />
<line x1="207.30" y1="454.20" x2="208.70" y2="454.20" stroke="#1e1e1e" stroke-width="0.7" />
<line x1="207.30" y1="450.55" x2="208.70" y2="450.55" stroke="#1e1e1e" stroke-width="0.7" />
<line x1="207.30" y1="446.90" x2="208.70" y2="446.90" stroke="#1e1e1e" stroke-width="0.7" />
<line x1="207.30" y1="443.25" x2="208.70" y2="443.25" stroke="#1e1e1e" stroke-width="0.7" />
<line x1="207.30" y1="439.60" x2="208.70" y2="439.60" stroke="#1e1e1e" stroke-width="0.7" />
<line x1="212.15" y1="498.00" x2="212.15" y2="500.30" stroke="#1e1e1e" stroke-width="0.8" />
<line x1="215.03" y1="498.00" x2="215.03" y2="499.50" stroke="#1e1e1e" stroke-width="0.8" />
<line x1="217.91" y1="498.00" x2="217.91" y2="499.50" stroke="#1e1e1e" stroke-width="0.8" />
<line x1="220.79" y1="498.00" x2="220.79" y2="499.50" stroke="#1e1e1e" stroke-width="0.8" />
<line x1="223.67" y1="498.00" x2="223.67" y2="500.30" stroke="#1e1e1e" stroke-width="0.8" />
<line x1="226.55" y1="498.00" x2="226.55" y2="499.50" stroke="#1e1e1e" stroke-width="0.8" />
<line x1="229.43" y1="498.00" x2="229.43" y2="499.50" stroke="#1e1e1e" stroke-width="0.8" />
<line x1="232.31" y1="498.00" x2="232.31" y2="499.50" stroke="#1e1e1e" stroke-width="0.8" />
<line x1="235.19" y1="498.00" x2="235.19" y2="500.30" stroke="#1e1e1e" stroke-width="0.8" />
<line x1="238.07" y1="498.00" x2="238.07" y2="499.50" stroke="#1e1e1e" stroke-width="0.8" />
<line x1="240.95" y1="498.00" x2="240.95" y2="499.50" stroke="#1e1e1e" stroke-width="0.8" />
<line x1="243.83" y1="498.00" x2="243.83" y2="499.50" stroke="#1e1e1e" stroke-width="0.8" />
<line x1="246.71" y1="498.00" x2="246.71" y2="500.30" stroke="#1e1e1e" stroke-width="0.8" />
<line x1="249.59" y1="498.00" x2="249.59" y2="499.50" stroke="#1e1e1e" stroke-width="0.8" />
<line x1="252.47" y1="498.00" x2="252.47" y2="499.50" stroke="#1e1e1e" stroke-width="0.8" />
<line x1="255.35" y1="498.00" x2="255.35" y2="499.50" stroke="#1e1e1e" stroke-width="0.8" />
<line x1="258.23" y1="498.00" x2="258.23" y2="500.30" stroke="#1e1e1e" stroke-width="0.8" />
<line x1="261.11" y1="498.00" x2="261.11" y2="499.50" stroke="#1e1e1e" stroke-width="0.8" />
<line x1="263.99" y1="498.00" x2="263.99" y2="499.50" stroke="#1e1e1e" stroke-width="0.8" />
<g transform="translate(212.15 511.70) scale(1.0331 1)" fill="#1e1e1e" stroke="#1e1e1e" stroke-width="0.16"><text x="-6.34" font-size="7.60">100</text></g>
<g transform="translate(235.20 511.70) scale(1.0331 1)" fill="#1e1e1e" stroke="#1e1e1e" stroke-width="0.16"><text x="-6.34" font-size="7.60">140</text></g>
<g transform="translate(258.20 511.70) scale(1.0331 1)" fill="#1e1e1e" stroke="#1e1e1e" stroke-width="0.16"><text x="-6.34" font-size="7.60">180</text></g>
<g transform="translate(238.00 431.20) scale(1.0342 1)" fill="#1e1e1e" stroke="#1e1e1e" stroke-width="0.16"><text x="-21.27" font-size="8.60">sh</text><text x="-12.19" font-size="8.60" font-style="italic">Ssx2ip</text><text x="13.62" font-size="8.60">-2</text></g>
<line x1="19.70" y1="458.00" x2="19.70" y2="516.60" stroke="#111" stroke-width="1.2" />
<line x1="19.10" y1="516.60" x2="90.00" y2="516.60" stroke="#111" stroke-width="1.2" />
<path d="M19.7,451.6 L16.3,460.6 L23.1,460.6 Z" fill="#111"/>
<path d="M99.4,516.6 L88.6,513.2 L88.6,520 Z" fill="#111"/>
<g transform="translate(14.60 485.50) rotate(-90) scale(0.6938 1)" fill="#1e1e1e" stroke="#1e1e1e" stroke-width="0.08"><text x="-19.82" font-size="8.20" font-weight="bold">Cell count</text></g>
<g transform="translate(54.70 527.80) scale(0.7226 1)" fill="#1e1e1e" stroke="#1e1e1e" stroke-width="0.08"><text x="-30.31" font-size="8.20" font-weight="bold">Cell trace violet</text></g>
<g transform="translate(74.40 167.40) scale(1.0060 1)" fill="#1e1e1e" stroke="#1e1e1e" stroke-width="0.16"><text x="-33.80" font-size="9.60">CD71</text><text x="-9.25" y="-3.65" font-size="6.91">low</text><text x="1.12" font-size="9.60">Ter119</text><text x="29.76" y="-3.65" font-size="6.91">+</text></g>
<g transform="translate(74.50 178.00) scale(0.9761 1)" fill="#1e1e1e" stroke="#1e1e1e" stroke-width="0.16"><text x="-19.26" font-size="9.00">shControl</text></g>
<g transform="translate(75.20 265.80) scale(0.9613 1)" fill="#1e1e1e" stroke="#1e1e1e" stroke-width="0.16"><text x="-22.26" font-size="9.00">sh</text><text x="-12.76" font-size="9.00" font-style="italic">Ssx2ip</text><text x="14.26" font-size="9.00">-2</text></g>
<path d="M60.5,192.8 C64,191.8 66.5,195.8 65.5,201.8 C64.5,206.8 62.5,209.8 63,214.8 C63.5,219.8 66.5,223.8 66,228.8 C65.5,231.8 61,231.8 60,228.8" fill="none" stroke="#c4c4c4" stroke-width="0.6"/>
<path d="M62,208.8 C65,207.8 67.5,211.8 67,216.8" fill="none" stroke="#d0d0d0" stroke-width="0.5"/>
<path d="M56,190.70000000000002 C52.6,191.20000000000002 51.3,195.8 52.2,200.8 C53.2,205.8 54.6,209.8 55,215.3 L59.6,215.3 C59.6,210.8 60.6,207.3 62.8,203.8 C65.6,199.3 65.6,193.3 62.2,191.20000000000002 C60.2,190.10000000000002 57.8,190.3 56,190.70000000000002 Z" fill="#ecebea" stroke="#8c8782" stroke-width="0.7"/>
<path d="M55.4,191.8 C53,192.8 52.5,197.8 53.6,202.3 C54.6,205.8 57,207.0 58.8,204.8 C61,201.8 62.6,196.8 61.2,193.60000000000002 C60,191.20000000000002 57.2,191.0 55.4,191.8 Z" fill="#cfc9c4" stroke="#6f6761" stroke-width="0.7"/>
<path d="M55.6,193.3 C53.8,194.60000000000002 53.8,198.8 54.8,202.0 C55.8,204.4 57.8,204.4 59,201.8 C60.4,198.8 60.6,195.3 59,193.60000000000002 C58,192.60000000000002 56.6,192.60000000000002 55.6,193.3 Z" fill="#a39a94" stroke="#4f4742" stroke-width="0.7"/>
<path d="M56,194.8 C55,196.20000000000002 55.2,199.4 56.2,201.3 C57,202.4 58.2,201.4 58.6,199.0 C58.9,196.60000000000002 58.2,194.60000000000002 57.2,194.3 C56.8,194.20000000000002 56.3,194.4 56,194.8 Z" fill="#6b625c" stroke="#3a3430" stroke-width="0.6"/>
<ellipse cx="56.9" cy="200.0" rx="0.95" ry="1.3" fill="#f2eee9"/>
<path d="M51.1,216.8 C50.1,219.8 50.2,226.8 51.4,230.3 C52.9,233.20000000000002 57.6,233.20000000000002 58.7,229.8 C59.7,225.8 59.4,219.8 58.1,217.0 C56.6,214.20000000000002 52.6,214.20000000000002 51.1,216.8 Z" fill="#231e1b" stroke="#111" stroke-width="0.6"/>
<path d="M52.9,217.8 C52.1,220.8 52.4,226.8 53.6,229.8 C55.1,231.3 56.9,229.8 57.3,226.8 C57.7,222.8 57.3,218.8 56.1,217.3 C55.1,216.4 53.5,216.8 52.9,217.8 Z" fill="#5d524b"/>
<ellipse cx="55.1" cy="220.3" rx="0.9" ry="1.0" fill="#e8e0d8"/>
<ellipse cx="55.1" cy="224.3" rx="0.9" ry="1.0" fill="#e8e0d8"/>
<ellipse cx="55.1" cy="228.3" rx="0.9" ry="1.0" fill="#e8e0d8"/>
<circle cx="44.5" cy="230.10000000000002" r="1.9" fill="#111"/>
<rect x="50.3" y="189.70" width="20.4" height="42.90" fill="none" stroke="#8a8a8a" stroke-width="0.75"/>
<line x1="50.30" y1="216.40" x2="70.70" y2="216.40" stroke="#8a8a8a" stroke-width="0.75" />
<rect x="44.7" y="183.8" width="60.60" height="61.80" fill="none" stroke="#111" stroke-width="1.25"/>
<line x1="42.10" y1="189.30" x2="44.70" y2="189.30" stroke="#111" stroke-width="1.0" />
<g transform="translate(38.80 192.20)" fill="#1e1e1e" stroke="#1e1e1e" stroke-width="0.16"><text x="-12.10" font-size="8.00">10</text><text x="-3.20" y="-3.60" font-size="5.76">5</text></g>
<line x1="42.10" y1="203.90" x2="44.70" y2="203.90" stroke="#111" stroke-width="1.0" />
<g transform="translate(38.80 206.80)" fill="#1e1e1e" stroke="#1e1e1e" stroke-width="0.16"><text x="-12.10" font-size="8.00">10</text><text x="-3.20" y="-3.60" font-size="5.76">4</text></g>
<line x1="42.10" y1="220.40" x2="44.70" y2="220.40" stroke="#111" stroke-width="1.0" />
<g transform="translate(38.80 223.30)" fill="#1e1e1e" stroke="#1e1e1e" stroke-width="0.16"><text x="-12.10" font-size="8.00">10</text><text x="-3.20" y="-3.60" font-size="5.76">3</text></g>
<line x1="42.10" y1="230.40" x2="44.70" y2="230.40" stroke="#111" stroke-width="1.0" />
<g transform="translate(38.60 233.20)" fill="#1e1e1e" stroke="#1e1e1e" stroke-width="0.16"><text x="-4.45" font-size="8.00">0</text></g>
<line x1="42.10" y1="241.40" x2="44.70" y2="241.40" stroke="#111" stroke-width="1.0" />
<g transform="translate(38.80 244.30)" fill="#1e1e1e" stroke="#1e1e1e" stroke-width="0.16"><text x="-16.77" font-size="8.00">−10</text><text x="-3.20" y="-3.60" font-size="5.76">3</text></g>
<line x1="43.20" y1="194.17" x2="44.70" y2="194.17" stroke="#111" stroke-width="0.6" />
<line x1="43.20" y1="199.03" x2="44.70" y2="199.03" stroke="#111" stroke-width="0.6" />
<line x1="43.20" y1="209.40" x2="44.70" y2="209.40" stroke="#111" stroke-width="0.6" />
<line x1="43.20" y1="214.90" x2="44.70" y2="214.90" stroke="#111" stroke-width="0.6" />
<line x1="44.60" y1="245.60" x2="44.60" y2="247.80" stroke="#111" stroke-width="0.7" />
<line x1="48.06" y1="245.60" x2="48.06" y2="246.80" stroke="#111" stroke-width="0.7" />
<line x1="51.52" y1="245.60" x2="51.52" y2="246.80" stroke="#111" stroke-width="0.7" />
<line x1="54.99" y1="245.60" x2="54.99" y2="246.80" stroke="#111" stroke-width="0.7" />
<line x1="58.45" y1="245.60" x2="58.45" y2="247.80" stroke="#111" stroke-width="0.7" />
<line x1="61.91" y1="245.60" x2="61.91" y2="246.80" stroke="#111" stroke-width="0.7" />
<line x1="65.38" y1="245.60" x2="65.38" y2="246.80" stroke="#111" stroke-width="0.7" />
<line x1="68.84" y1="245.60" x2="68.84" y2="246.80" stroke="#111" stroke-width="0.7" />
<line x1="72.30" y1="245.60" x2="72.30" y2="247.80" stroke="#111" stroke-width="0.7" />
<line x1="75.76" y1="245.60" x2="75.76" y2="246.80" stroke="#111" stroke-width="0.7" />
<line x1="79.22" y1="245.60" x2="79.22" y2="246.80" stroke="#111" stroke-width="0.7" />
<line x1="82.69" y1="245.60" x2="82.69" y2="246.80" stroke="#111" stroke-width="0.7" />
<line x1="86.15" y1="245.60" x2="86.15" y2="247.80" stroke="#111" stroke-width="0.7" />
<line x1="89.61" y1="245.60" x2="89.61" y2="246.80" stroke="#111" stroke-width="0.7" />
<line x1="93.08" y1="245.60" x2="93.08" y2="246.80" stroke="#111" stroke-width="0.7" />
<line x1="96.54" y1="245.60" x2="96.54" y2="246.80" stroke="#111" stroke-width="0.7" />
<line x1="100.00" y1="245.60" x2="100.00" y2="247.80" stroke="#111" stroke-width="0.7" />
<line x1="103.46" y1="245.60" x2="103.46" y2="246.80" stroke="#111" stroke-width="0.7" />
<g transform="translate(88.00 190.60)" fill="#333" stroke="#333" stroke-width="0.12"><text x="-2.13" font-size="6.40">S</text></g>
<g transform="translate(88.00 195.70)" fill="#333" stroke="#333" stroke-width="0.12"><text x="-6.23" font-size="6.40">45.3</text></g>
<g transform="translate(54.20 239.00)" fill="#333" stroke="#333" stroke-width="0.12"><text x="-4.27" font-size="6.40">G1</text></g>
<g transform="translate(54.20 244.20)" fill="#333" stroke="#333" stroke-width="0.12"><text x="-6.23" font-size="6.40">45.6</text></g>
<g transform="translate(80.60 233.20)" fill="#333" stroke="#333" stroke-width="0.12"><text x="-4.27" font-size="6.40">G2</text></g>
<g transform="translate(80.60 238.20)" fill="#333" stroke="#333" stroke-width="0.12"><text x="-6.23" font-size="6.40">3.58</text></g>
<path d="M57.6,278.7 C54.4,278.7 53.4,282.3 54,284.90000000000003 C54.6,287.90000000000003 56.5,290.7 58,290.7 C60.1,290.7 61.9,286.8 61.9,283.3 C61.9,280.3 60.1,278.7 57.6,278.7 Z" fill="#f4f4f4" stroke="#6f6f6f" stroke-width="0.85"/>
<path d="M53,304.8 C51.6,307.8 51.7,315.3 52.6,318.3 C54,320.8 59.5,320.8 61,318.3 C62.2,315.3 61.5,307.3 59.8,304.5 C58.5,301.3 54.5,301.3 53,304.8 Z" fill="#e4e0dc" stroke="#625d58" stroke-width="0.85"/>
<path d="M54.3,306.3 C53.3,308.8 53.5,314.3 54.5,316.8 C56,318.8 58.5,318.6 59.5,316.3 C60.3,313.3 59.8,308.8 58.6,306.3 C57.5,304.1 55.2,304.1 54.3,306.3 Z" fill="#bfb7af" stroke="#544e49" stroke-width="0.7"/>
<path d="M54.2,313.3 C53.8,315.8 54.6,319.1 57,319.5 C59.5,319.5 60.2,316.3 59.6,313.3 C59,310.8 55,310.8 54.2,313.3 Z" fill="#26211e"/>
<path d="M55.5,308.3 C55,309.8 55.5,311.8 56.8,312.1 C58,311.8 58.3,309.8 57.6,308.3 C57,307.3 56,307.3 55.5,308.3 Z" fill="#f0ece8" stroke="#555" stroke-width="0.5"/>
<circle cx="57" cy="315.90000000000003" r="0.8" fill="#ddd"/>
<path d="M60,307.3 C63,309.3 66,313.3 67,318.3" fill="none" stroke="#d0d0d0" stroke-width="0.6"/>
<path d="M44.7,315.90000000000003 A1.9,2.1 0 0 1 44.7,320.1" fill="none" stroke="#222" stroke-width="0.8"/>
<rect x="50.3" y="277.20" width="20.4" height="42.90" fill="none" stroke="#8a8a8a" stroke-width="0.75"/>
<line x1="50.30" y1="303.90" x2="70.70" y2="303.90" stroke="#8a8a8a" stroke-width="0.75" />
<rect x="44.7" y="271.3" width="60.60" height="61.00" fill="none" stroke="#111" stroke-width="1.25"/>
<line x1="42.10" y1="276.90" x2="44.70" y2="276.90" stroke="#111" stroke-width="1.0" />
<g transform="translate(38.80 279.80)" fill="#1e1e1e" stroke="#1e1e1e" stroke-width="0.16"><text x="-12.10" font-size="8.00">10</text><text x="-3.20" y="-3.60" font-size="5.76">5</text></g>
<line x1="42.10" y1="292.00" x2="44.70" y2="292.00" stroke="#111" stroke-width="1.0" />
<g transform="translate(38.80 294.90)" fill="#1e1e1e" stroke="#1e1e1e" stroke-width="0.16"><text x="-12.10" font-size="8.00">10</text><text x="-3.20" y="-3.60" font-size="5.76">4</text></g>
<line x1="42.10" y1="308.00" x2="44.70" y2="308.00" stroke="#111" stroke-width="1.0" />
<g transform="translate(38.80 310.90)" fill="#1e1e1e" stroke="#1e1e1e" stroke-width="0.16"><text x="-12.10" font-size="8.00">10</text><text x="-3.20" y="-3.60" font-size="5.76">3</text></g>
<line x1="42.10" y1="318.00" x2="44.70" y2="318.00" stroke="#111" stroke-width="1.0" />
<g transform="translate(38.60 320.80)" fill="#1e1e1e" stroke="#1e1e1e" stroke-width="0.16"><text x="-4.45" font-size="8.00">0</text></g>
<line x1="42.10" y1="327.20" x2="44.70" y2="327.20" stroke="#111" stroke-width="1.0" />
<g transform="translate(38.80 330.10)" fill="#1e1e1e" stroke="#1e1e1e" stroke-width="0.16"><text x="-16.77" font-size="8.00">−10</text><text x="-3.20" y="-3.60" font-size="5.76">3</text></g>
<line x1="43.20" y1="281.93" x2="44.70" y2="281.93" stroke="#111" stroke-width="0.6" />
<line x1="43.20" y1="286.97" x2="44.70" y2="286.97" stroke="#111" stroke-width="0.6" />
<line x1="43.20" y1="297.33" x2="44.70" y2="297.33" stroke="#111" stroke-width="0.6" />
<line x1="43.20" y1="302.67" x2="44.70" y2="302.67" stroke="#111" stroke-width="0.6" />
<line x1="44.60" y1="332.30" x2="44.60" y2="334.50" stroke="#111" stroke-width="0.7" />
<line x1="48.06" y1="332.30" x2="48.06" y2="333.50" stroke="#111" stroke-width="0.7" />
<line x1="51.52" y1="332.30" x2="51.52" y2="333.50" stroke="#111" stroke-width="0.7" />
<line x1="54.99" y1="332.30" x2="54.99" y2="333.50" stroke="#111" stroke-width="0.7" />
<line x1="58.45" y1="332.30" x2="58.45" y2="334.50" stroke="#111" stroke-width="0.7" />
<line x1="61.91" y1="332.30" x2="61.91" y2="333.50" stroke="#111" stroke-width="0.7" />
<line x1="65.38" y1="332.30" x2="65.38" y2="333.50" stroke="#111" stroke-width="0.7" />
<line x1="68.84" y1="332.30" x2="68.84" y2="333.50" stroke="#111" stroke-width="0.7" />
<line x1="72.30" y1="332.30" x2="72.30" y2="334.50" stroke="#111" stroke-width="0.7" />
<line x1="75.76" y1="332.30" x2="75.76" y2="333.50" stroke="#111" stroke-width="0.7" />
<line x1="79.22" y1="332.30" x2="79.22" y2="333.50" stroke="#111" stroke-width="0.7" />
<line x1="82.69" y1="332.30" x2="82.69" y2="333.50" stroke="#111" stroke-width="0.7" />
<line x1="86.15" y1="332.30" x2="86.15" y2="334.50" stroke="#111" stroke-width="0.7" />
<line x1="89.61" y1="332.30" x2="89.61" y2="333.50" stroke="#111" stroke-width="0.7" />
<line x1="93.08" y1="332.30" x2="93.08" y2="333.50" stroke="#111" stroke-width="0.7" />
<line x1="96.54" y1="332.30" x2="96.54" y2="333.50" stroke="#111" stroke-width="0.7" />
<line x1="100.00" y1="332.30" x2="100.00" y2="334.50" stroke="#111" stroke-width="0.7" />
<line x1="103.46" y1="332.30" x2="103.46" y2="333.50" stroke="#111" stroke-width="0.7" />
<g transform="translate(88.00 278.10)" fill="#333" stroke="#333" stroke-width="0.12"><text x="-2.13" font-size="6.40">S</text></g>
<g transform="translate(88.00 283.20)" fill="#333" stroke="#333" stroke-width="0.12"><text x="-6.23" font-size="6.40">16.6</text></g>
<g transform="translate(54.20 326.50)" fill="#333" stroke="#333" stroke-width="0.12"><text x="-4.27" font-size="6.40">G1</text></g>
<g transform="translate(54.20 331.70)" fill="#333" stroke="#333" stroke-width="0.12"><text x="-6.23" font-size="6.40">75.4</text></g>
<g transform="translate(80.60 320.70)" fill="#333" stroke="#333" stroke-width="0.12"><text x="-4.27" font-size="6.40">G2</text></g>
<g transform="translate(80.60 325.70)" fill="#333" stroke="#333" stroke-width="0.12"><text x="-6.23" font-size="6.40">4.05</text></g>
<g transform="translate(48.00 340.50) rotate(-45)" fill="#1e1e1e" stroke="#1e1e1e" stroke-width="0.1"><text x="-4.23" font-size="7.60">0</text></g>
<g transform="translate(61.90 340.50) rotate(-45)" fill="#1e1e1e" stroke="#1e1e1e" stroke-width="0.1"><text x="-13.52" font-size="7.60">50K</text></g>
<g transform="translate(75.70 340.50) rotate(-45)" fill="#1e1e1e" stroke="#1e1e1e" stroke-width="0.1"><text x="-17.75" font-size="7.60">100K</text></g>
<g transform="translate(89.50 340.50) rotate(-45)" fill="#1e1e1e" stroke="#1e1e1e" stroke-width="0.1"><text x="-17.75" font-size="7.60">150K</text></g>
<g transform="translate(103.40 340.50) rotate(-45)" fill="#1e1e1e" stroke="#1e1e1e" stroke-width="0.1"><text x="-17.75" font-size="7.60">200K</text></g>
<line x1="19.90" y1="287.00" x2="19.90" y2="357.60" stroke="#111" stroke-width="1.2" />
<line x1="19.30" y1="357.60" x2="82.00" y2="357.60" stroke="#111" stroke-width="1.2" />
<path d="M19.9,279.6 L16.3,288.6 L23.5,288.6 Z" fill="#111"/>
<path d="M91.2,357.6 L81.6,354.2 L81.6,361 Z" fill="#111"/>
<g transform="translate(13.90 319.20) rotate(-90) scale(0.6455 1)" fill="#1e1e1e" stroke="#1e1e1e" stroke-width="0.08"><text x="-11.00" font-size="9.00" font-weight="bold">BrdU</text></g>
<g transform="translate(55.70 368.80) scale(0.6716 1)" fill="#1e1e1e" stroke="#1e1e1e" stroke-width="0.08"><text x="-10.27" font-size="8.60" font-weight="bold">DAPI</text></g>
<line x1="311.70" y1="420.60" x2="311.70" y2="498.40" stroke="#1e1e1e" stroke-width="1.15" />
<line x1="311.20" y1="497.90" x2="424.60" y2="497.90" stroke="#1e1e1e" stroke-width="1.15" />
<line x1="308.70" y1="497.90" x2="311.70" y2="497.90" stroke="#1e1e1e" stroke-width="1.15" />
<g transform="translate(305.50 500.70)" fill="#1e1e1e" stroke="#1e1e1e" stroke-width="0.16"><text x="-4.45" font-size="8.00">0</text></g>
<line x1="308.70" y1="479.20" x2="311.70" y2="479.20" stroke="#1e1e1e" stroke-width="1.15" />
<g transform="translate(305.50 482.00)" fill="#1e1e1e" stroke="#1e1e1e" stroke-width="0.16"><text x="-8.90" font-size="8.00">20</text></g>
<line x1="308.70" y1="460.50" x2="311.70" y2="460.50" stroke="#1e1e1e" stroke-width="1.15" />
<g transform="translate(305.50 463.30)" fill="#1e1e1e" stroke="#1e1e1e" stroke-width="0.16"><text x="-8.90" font-size="8.00">40</text></g>
<line x1="308.70" y1="441.80" x2="311.70" y2="441.80" stroke="#1e1e1e" stroke-width="1.15" />
<g transform="translate(305.50 444.60)" fill="#1e1e1e" stroke="#1e1e1e" stroke-width="0.16"><text x="-8.90" font-size="8.00">60</text></g>
<line x1="308.70" y1="423.10" x2="311.70" y2="423.10" stroke="#1e1e1e" stroke-width="1.15" />
<g transform="translate(305.50 425.90)" fill="#1e1e1e" stroke="#1e1e1e" stroke-width="0.16"><text x="-8.90" font-size="8.00">80</text></g>
<line x1="324.50" y1="497.90" x2="324.50" y2="500.10" stroke="#1e1e1e" stroke-width="1.15" />
<g transform="translate(324.50 510.30)" fill="#1e1e1e" stroke="#1e1e1e" stroke-width="0.16"><text x="-2.22" font-size="8.00">5</text></g>
<rect x="314.15" y="492.29" width="4.70" height="5.61" fill="#c80f2e" />
<line x1="316.50" y1="492.59" x2="316.50" y2="491.82" stroke="#2a2a2a" stroke-width="0.9" />
<line x1="314.80" y1="491.82" x2="318.20" y2="491.82" stroke="#2a2a2a" stroke-width="1.0" />
<rect x="322.15" y="493.69" width="4.70" height="4.21" fill="#164a84" />
<line x1="324.50" y1="493.99" x2="324.50" y2="493.22" stroke="#2a2a2a" stroke-width="0.9" />
<line x1="322.80" y1="493.22" x2="326.20" y2="493.22" stroke="#2a2a2a" stroke-width="1.0" />
<rect x="330.15" y="494.16" width="4.70" height="3.74" fill="#2ba6e0" />
<line x1="332.50" y1="494.46" x2="332.50" y2="493.22" stroke="#2a2a2a" stroke-width="0.9" />
<line x1="330.80" y1="493.22" x2="334.20" y2="493.22" stroke="#2a2a2a" stroke-width="1.0" />
<line x1="353.40" y1="497.90" x2="353.40" y2="500.10" stroke="#1e1e1e" stroke-width="1.15" />
<g transform="translate(353.40 510.30)" fill="#1e1e1e" stroke="#1e1e1e" stroke-width="0.16"><text x="-2.22" font-size="8.00">6</text></g>
<rect x="343.05" y="451.15" width="4.70" height="46.75" fill="#c80f2e" />
<line x1="345.40" y1="451.45" x2="345.40" y2="448.34" stroke="#2a2a2a" stroke-width="0.9" />
<line x1="343.70" y1="448.34" x2="347.10" y2="448.34" stroke="#2a2a2a" stroke-width="1.0" />
<rect x="351.05" y="464.24" width="4.70" height="33.66" fill="#164a84" />
<line x1="353.40" y1="464.54" x2="353.40" y2="460.97" stroke="#2a2a2a" stroke-width="0.9" />
<line x1="351.70" y1="460.97" x2="355.10" y2="460.97" stroke="#2a2a2a" stroke-width="1.0" />
<rect x="359.05" y="466.11" width="4.70" height="31.79" fill="#2ba6e0" />
<line x1="361.40" y1="466.41" x2="361.40" y2="460.97" stroke="#2a2a2a" stroke-width="0.9" />
<line x1="359.70" y1="460.97" x2="363.10" y2="460.97" stroke="#2a2a2a" stroke-width="1.0" />
<line x1="382.30" y1="497.90" x2="382.30" y2="500.10" stroke="#1e1e1e" stroke-width="1.15" />
<g transform="translate(382.30 510.30)" fill="#1e1e1e" stroke="#1e1e1e" stroke-width="0.16"><text x="-2.22" font-size="8.00">7</text></g>
<rect x="371.95" y="462.37" width="4.70" height="35.53" fill="#c80f2e" />
<line x1="374.30" y1="462.67" x2="374.30" y2="460.03" stroke="#2a2a2a" stroke-width="0.9" />
<line x1="372.60" y1="460.03" x2="376.00" y2="460.03" stroke="#2a2a2a" stroke-width="1.0" />
<rect x="379.95" y="453.49" width="4.70" height="44.41" fill="#164a84" />
<line x1="382.30" y1="453.79" x2="382.30" y2="449.28" stroke="#2a2a2a" stroke-width="0.9" />
<line x1="380.60" y1="449.28" x2="384.00" y2="449.28" stroke="#2a2a2a" stroke-width="1.0" />
<rect x="387.95" y="447.41" width="4.70" height="50.49" fill="#2ba6e0" />
<line x1="390.30" y1="447.71" x2="390.30" y2="443.20" stroke="#2a2a2a" stroke-width="0.9" />
<line x1="388.60" y1="443.20" x2="392.00" y2="443.20" stroke="#2a2a2a" stroke-width="1.0" />
<line x1="411.20" y1="497.90" x2="411.20" y2="500.10" stroke="#1e1e1e" stroke-width="1.15" />
<g transform="translate(411.20 510.30)" fill="#1e1e1e" stroke="#1e1e1e" stroke-width="0.16"><text x="-2.22" font-size="8.00">8</text></g>
<rect x="400.85" y="497.34" width="4.70" height="0.56" fill="#c80f2e" />
<rect x="408.85" y="496.03" width="4.70" height="1.87" fill="#164a84" />
<line x1="411.20" y1="496.33" x2="411.20" y2="495.09" stroke="#2a2a2a" stroke-width="0.9" />
<line x1="409.50" y1="495.09" x2="412.90" y2="495.09" stroke="#2a2a2a" stroke-width="1.0" />
<rect x="416.85" y="496.03" width="4.70" height="1.87" fill="#2ba6e0" />
<line x1="419.20" y1="496.33" x2="419.20" y2="495.28" stroke="#2a2a2a" stroke-width="0.9" />
<line x1="417.50" y1="495.28" x2="420.90" y2="495.28" stroke="#2a2a2a" stroke-width="1.0" />
<g transform="translate(332.60 494.09)" fill="#2a2a2a" stroke="#2a2a2a" stroke-width="0.08"><text x="-1.48" font-size="7.08" font-weight="bold" letter-spacing="0.2">*</text></g>
<g transform="translate(353.50 460.90)" fill="#2a2a2a" stroke="#2a2a2a" stroke-width="0.08"><text x="-2.96" font-size="7.08" font-weight="bold" letter-spacing="0.2">**</text></g>
<g transform="translate(361.50 460.90)" fill="#2a2a2a" stroke="#2a2a2a" stroke-width="0.08"><text x="-2.96" font-size="7.08" font-weight="bold" letter-spacing="0.2">**</text></g>
<g transform="translate(382.40 449.68)" fill="#2a2a2a" stroke="#2a2a2a" stroke-width="0.08"><text x="-1.48" font-size="7.08" font-weight="bold" letter-spacing="0.2">*</text></g>
<g transform="translate(390.40 443.60)" fill="#2a2a2a" stroke="#2a2a2a" stroke-width="0.08"><text x="-2.96" font-size="7.08" font-weight="bold" letter-spacing="0.2">**</text></g>
<g transform="translate(411.30 495.49)" fill="#2a2a2a" stroke="#2a2a2a" stroke-width="0.08"><text x="-2.96" font-size="7.08" font-weight="bold" letter-spacing="0.2">**</text></g>
<g transform="translate(419.30 495.49)" fill="#2a2a2a" stroke="#2a2a2a" stroke-width="0.08"><text x="-1.48" font-size="7.08" font-weight="bold" letter-spacing="0.2">*</text></g>
<line x1="322.30" y1="515.70" x2="413.90" y2="515.70" stroke="#1e1e1e" stroke-width="1.0" />
<g transform="translate(368.00 524.80) scale(0.7092 1)" fill="#1e1e1e" stroke="#1e1e1e" stroke-width="0.08"><text x="-21.64" font-size="8.20" font-weight="bold">Generation</text></g>
<g transform="translate(291.20 459.00) rotate(-90) scale(0.6819 1)" fill="#1e1e1e"><text x="-40.11" font-size="8.80" font-weight="bold">Percentage of cells</text></g>
<rect x="317.60" y="421.30" width="5.20" height="5.20" fill="#c80f2e" />
<g transform="translate(326.40 426.10) scale(0.9378 1)" fill="#1e1e1e" stroke="#1e1e1e" stroke-width="0.16"><text x="0.00" font-size="7.40">shControl</text></g>
<rect x="317.60" y="429.00" width="5.20" height="5.20" fill="#164a84" />
<g transform="translate(326.40 433.80) scale(0.9069 1)" fill="#1e1e1e" stroke="#1e1e1e" stroke-width="0.16"><text x="0.00" font-size="7.40">sh</text><text x="7.82" font-size="7.40" font-style="italic">Ssx2ip</text><text x="30.03" font-size="7.40">-1</text></g>
<rect x="317.60" y="436.70" width="5.20" height="5.20" fill="#2ba6e0" />
<g transform="translate(326.40 441.50) scale(0.9178 1)" fill="#1e1e1e" stroke="#1e1e1e" stroke-width="0.16"><text x="0.00" font-size="7.40">sh</text><text x="7.82" font-size="7.40" font-style="italic">Ssx2ip</text><text x="30.03" font-size="7.40">-2</text></g>
<line x1="467.50" y1="427.20" x2="467.50" y2="498.20" stroke="#1e1e1e" stroke-width="1.15" />
<line x1="467.00" y1="497.70" x2="512.70" y2="497.70" stroke="#1e1e1e" stroke-width="1.15" />
<line x1="464.50" y1="497.70" x2="467.50" y2="497.70" stroke="#1e1e1e" stroke-width="1.15" />
<g transform="translate(461.70 500.50)" fill="#1e1e1e" stroke="#1e1e1e" stroke-width="0.16"><text x="-4.45" font-size="8.00">0</text></g>
<line x1="464.50" y1="484.20" x2="467.50" y2="484.20" stroke="#1e1e1e" stroke-width="1.15" />
<g transform="translate(461.70 487.00)" fill="#1e1e1e" stroke="#1e1e1e" stroke-width="0.16"><text x="-8.90" font-size="8.00">10</text></g>
<line x1="464.50" y1="470.70" x2="467.50" y2="470.70" stroke="#1e1e1e" stroke-width="1.15" />
<g transform="translate(461.70 473.50)" fill="#1e1e1e" stroke="#1e1e1e" stroke-width="0.16"><text x="-8.90" font-size="8.00">20</text></g>
<line x1="464.50" y1="457.20" x2="467.50" y2="457.20" stroke="#1e1e1e" stroke-width="1.15" />
<g transform="translate(461.70 460.00)" fill="#1e1e1e" stroke="#1e1e1e" stroke-width="0.16"><text x="-8.90" font-size="8.00">30</text></g>
<line x1="464.50" y1="443.70" x2="467.50" y2="443.70" stroke="#1e1e1e" stroke-width="1.15" />
<g transform="translate(461.70 446.50)" fill="#1e1e1e" stroke="#1e1e1e" stroke-width="0.16"><text x="-8.90" font-size="8.00">40</text></g>
<line x1="464.50" y1="430.20" x2="467.50" y2="430.20" stroke="#1e1e1e" stroke-width="1.15" />
<g transform="translate(461.70 433.00)" fill="#1e1e1e" stroke="#1e1e1e" stroke-width="0.16"><text x="-8.90" font-size="8.00">50</text></g>
<rect x="472.40" y="447.07" width="9.00" height="50.62" fill="#c80f2e" />
<line x1="476.90" y1="447.38" x2="476.90" y2="446.26" stroke="#2a2a2a" stroke-width="0.9" />
<line x1="475.20" y1="446.26" x2="478.60" y2="446.26" stroke="#2a2a2a" stroke-width="1.0" />
<line x1="476.90" y1="497.70" x2="476.90" y2="499.90" stroke="#1e1e1e" stroke-width="1.15" />
<rect x="486.20" y="440.59" width="9.00" height="57.11" fill="#164a84" />
<line x1="490.70" y1="440.89" x2="490.70" y2="438.03" stroke="#2a2a2a" stroke-width="0.9" />
<line x1="489.00" y1="438.03" x2="492.40" y2="438.03" stroke="#2a2a2a" stroke-width="1.0" />
<line x1="490.70" y1="497.70" x2="490.70" y2="499.90" stroke="#1e1e1e" stroke-width="1.15" />
<rect x="500.00" y="438.70" width="9.00" height="59.00" fill="#2ba6e0" />
<line x1="504.50" y1="439.00" x2="504.50" y2="436.68" stroke="#2a2a2a" stroke-width="0.9" />
<line x1="502.80" y1="436.68" x2="506.20" y2="436.68" stroke="#2a2a2a" stroke-width="1.0" />
<line x1="504.50" y1="497.70" x2="504.50" y2="499.90" stroke="#1e1e1e" stroke-width="1.15" />
<g transform="translate(490.85 437.60)" fill="#2a2a2a" stroke="#2a2a2a" stroke-width="0.08"><text x="-3.15" font-size="7.32" font-weight="bold" letter-spacing="0.3">**</text></g>
<g transform="translate(504.65 435.40)" fill="#2a2a2a" stroke="#2a2a2a" stroke-width="0.08"><text x="-4.72" font-size="7.32" font-weight="bold" letter-spacing="0.3">***</text></g>
<g transform="translate(446.80 462.30) rotate(-90) scale(0.6614 1)" fill="#1e1e1e"><text x="-38.63" font-size="8.80" font-weight="bold">Proliferation index</text></g>
<g transform="translate(480.30 508.00) rotate(-45)" fill="#1e1e1e" stroke="#1e1e1e" stroke-width="0.16"><text x="-33.38" font-size="7.80">shControl</text></g>
<g transform="translate(494.30 508.00) rotate(-45)" fill="#1e1e1e" stroke="#1e1e1e" stroke-width="0.16"><text x="-38.59" font-size="7.80">sh</text><text x="-30.35" font-size="7.80" font-style="italic">Ssx2ip</text><text x="-6.94" font-size="7.80">-1</text></g>
<g transform="translate(508.10 508.00) rotate(-45)" fill="#1e1e1e" stroke="#1e1e1e" stroke-width="0.16"><text x="-38.59" font-size="7.80">sh</text><text x="-30.35" font-size="7.80" font-style="italic">Ssx2ip</text><text x="-6.94" font-size="7.80">-2</text></g>
<rect x="0.5" y="0.5" width="519" height="542" fill="none" stroke="#555" stroke-width="1"/>
</svg>
</body></html>
